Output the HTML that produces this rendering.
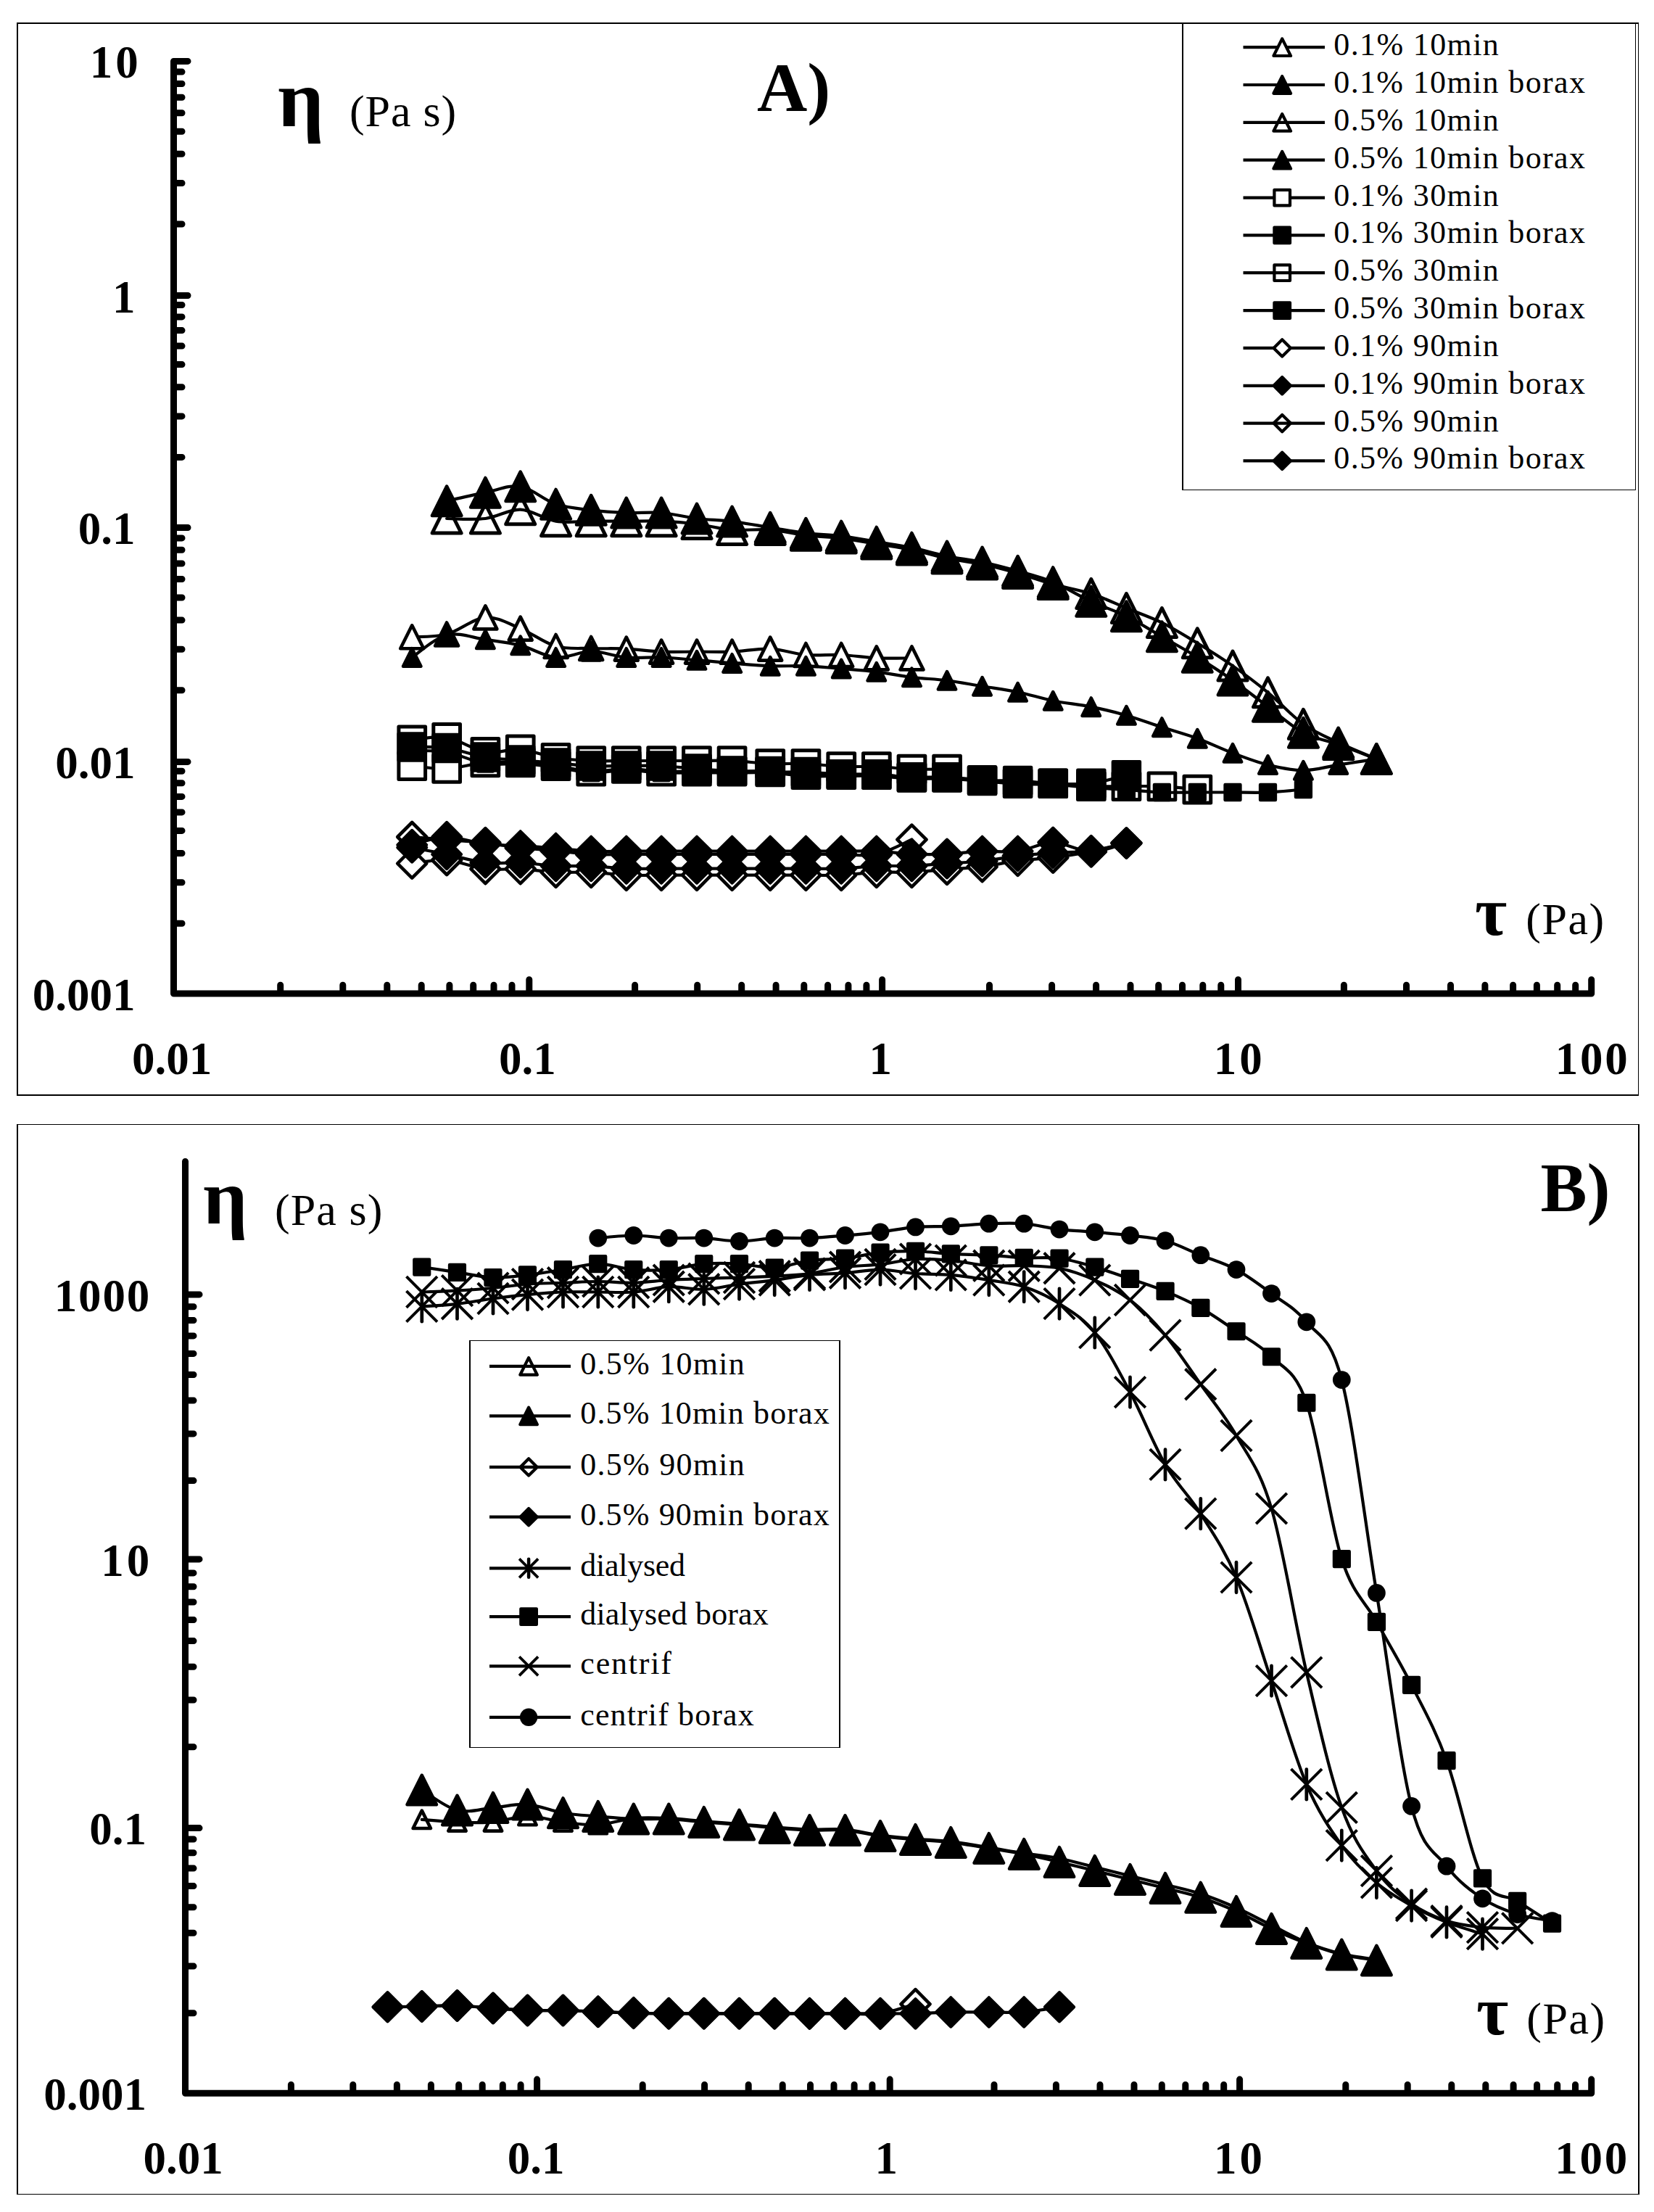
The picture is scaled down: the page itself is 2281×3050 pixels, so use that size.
<!DOCTYPE html>
<html lang="en"><head><meta charset="utf-8"><title>Viscosity vs shear stress</title>
<style>html,body{margin:0;padding:0;background:#fff}svg{display:block}text{font-family:'Liberation Serif', serif;fill:#000}</style>
</head><body>
<svg width="2281" height="3050" viewBox="0 0 2281 3050">
<rect width="2281" height="3050" fill="#fff"/>
<path d="M23 31h2v1480h-2zM23 31h2237v2h-2237zM2259 31h1v1480h-1zM23 1509h2237v2h-2237z" fill="#000" shape-rendering="crispEdges"/>
<g fill="none" stroke="#000" stroke-width="9" stroke-linecap="round" stroke-linejoin="round"><path d="M239.5 84.4L239.5 1370L2194.7 1370M386.7 1370L386.7 1358.2M472.8 1370L472.8 1358.2M533.8 1370L533.8 1358.2M581.2 1370L581.2 1358.2M619.9 1370L619.9 1358.2M652.7 1370L652.7 1358.2M681 1370L681 1358.2M706 1370L706 1358.2M875.6 1370L875.6 1358.2M961.7 1370L961.7 1358.2M1022.7 1370L1022.7 1358.2M1070.1 1370L1070.1 1358.2M1108.8 1370L1108.8 1358.2M1141.6 1370L1141.6 1358.2M1169.9 1370L1169.9 1358.2M1194.9 1370L1194.9 1358.2M1364.5 1370L1364.5 1358.2M1450.6 1370L1450.6 1358.2M1511.6 1370L1511.6 1358.2M1559 1370L1559 1358.2M1597.7 1370L1597.7 1358.2M1630.5 1370L1630.5 1358.2M1658.8 1370L1658.8 1358.2M1683.8 1370L1683.8 1358.2M1853.4 1370L1853.4 1358.2M1939.5 1370L1939.5 1358.2M2000.5 1370L2000.5 1358.2M2047.9 1370L2047.9 1358.2M2086.6 1370L2086.6 1358.2M2119.4 1370L2119.4 1358.2M2147.7 1370L2147.7 1358.2M2172.7 1370L2172.7 1358.2M729.8 1370L729.8 1350.8M1216.6 1370L1216.6 1350.8M1707.5 1370L1707.5 1350.8M2194.7 1370L2194.7 1350.8M239.5 1273.2L251 1273.2M239.5 1216.7L251 1216.7M239.5 1176.5L251 1176.5M239.5 1145.4L251 1145.4M239.5 1119.9L251 1119.9M239.5 1098.4L251 1098.4M239.5 1079.7L251 1079.7M239.5 1063.3L251 1063.3M239.5 951.8L251 951.8M239.5 895.3L251 895.3M239.5 855.1L251 855.1M239.5 824L251 824M239.5 798.5L251 798.5M239.5 777L251 777M239.5 758.3L251 758.3M239.5 741.9L251 741.9M239.5 630.4L251 630.4M239.5 573.9L251 573.9M239.5 533.7L251 533.7M239.5 502.6L251 502.6M239.5 477.1L251 477.1M239.5 455.6L251 455.6M239.5 436.9L251 436.9M239.5 420.5L251 420.5M239.5 309L251 309M239.5 252.5L251 252.5M239.5 212.3L251 212.3M239.5 181.2L251 181.2M239.5 155.7L251 155.7M239.5 134.2L251 134.2M239.5 115.5L251 115.5M239.5 99.1L251 99.1M239.5 1050.4L259 1050.4M239.5 727.5L259 727.5M239.5 407.5L259 407.5M239.5 84.4L259 84.4"/></g>
<path d="M568.2 878.3C576.2 877.7 599.2 879 616.1 874.5C633 870 652.5 852.7 669.4 851.4C686.3 850.1 701.5 860 717.7 866.6C733.9 873.2 750.4 886.4 766.6 891C782.9 895.6 799 893.4 815.2 894C831.4 894.6 847.6 893.8 863.8 894.6C879.9 895.4 895.9 897.9 912.1 898.6C928.3 899.3 944.8 898.6 961 898.6C977.2 898.6 992.7 899.3 1009.6 898.6C1026.5 897.9 1045.2 893.9 1062.2 894.6C1079.2 895.3 1095.1 901.6 1111.4 903C1127.7 904.4 1144 902.3 1160.2 903C1176.4 903.7 1192.6 906.7 1208.8 907.4C1225 908.1 1249.3 907.4 1257.4 907.4" fill="none" stroke="#000" stroke-width="4.2" stroke-linejoin="round" stroke-linecap="round"/>
<path d="M568.2 862.3L584.2 894.2L552.2 894.2Z" fill="#fff" stroke="#000" stroke-width="4.6" stroke-linejoin="round" stroke-linecap="round"/>
<path d="M616.1 858.5L632.1 890.5L600.1 890.5Z" fill="#fff" stroke="#000" stroke-width="4.6" stroke-linejoin="round" stroke-linecap="round"/>
<path d="M669.4 835.4L685.4 867.4L653.4 867.4Z" fill="#fff" stroke="#000" stroke-width="4.6" stroke-linejoin="round" stroke-linecap="round"/>
<path d="M717.7 850.6L733.7 882.6L701.8 882.6Z" fill="#fff" stroke="#000" stroke-width="4.6" stroke-linejoin="round" stroke-linecap="round"/>
<path d="M766.6 875L782.6 907L750.6 907Z" fill="#fff" stroke="#000" stroke-width="4.6" stroke-linejoin="round" stroke-linecap="round"/>
<path d="M815.2 878L831.2 910L799.2 910Z" fill="#fff" stroke="#000" stroke-width="4.6" stroke-linejoin="round" stroke-linecap="round"/>
<path d="M863.8 878.6L879.8 910.6L847.8 910.6Z" fill="#fff" stroke="#000" stroke-width="4.6" stroke-linejoin="round" stroke-linecap="round"/>
<path d="M912.1 882.6L928.1 914.6L896.1 914.6Z" fill="#fff" stroke="#000" stroke-width="4.6" stroke-linejoin="round" stroke-linecap="round"/>
<path d="M961 882.6L977 914.6L945 914.6Z" fill="#fff" stroke="#000" stroke-width="4.6" stroke-linejoin="round" stroke-linecap="round"/>
<path d="M1009.6 882.6L1025.5 914.6L993.6 914.6Z" fill="#fff" stroke="#000" stroke-width="4.6" stroke-linejoin="round" stroke-linecap="round"/>
<path d="M1062.2 878.6L1078.2 910.6L1046.2 910.6Z" fill="#fff" stroke="#000" stroke-width="4.6" stroke-linejoin="round" stroke-linecap="round"/>
<path d="M1111.4 887L1127.4 919L1095.5 919Z" fill="#fff" stroke="#000" stroke-width="4.6" stroke-linejoin="round" stroke-linecap="round"/>
<path d="M1160.2 887L1176.2 919L1144.2 919Z" fill="#fff" stroke="#000" stroke-width="4.6" stroke-linejoin="round" stroke-linecap="round"/>
<path d="M1208.8 891.4L1224.8 923.4L1192.8 923.4Z" fill="#fff" stroke="#000" stroke-width="4.6" stroke-linejoin="round" stroke-linecap="round"/>
<path d="M1257.4 891.4L1273.4 923.4L1241.5 923.4Z" fill="#fff" stroke="#000" stroke-width="4.6" stroke-linejoin="round" stroke-linecap="round"/>
<path d="M568.2 906.5C576.2 901.3 599.2 879.6 616.1 875.5C633 871.4 652.5 879.5 669.4 881.9C686.3 884.3 701.5 885.8 717.7 889.9C733.9 894 750.4 905.1 766.6 906.5C782.9 907.9 799 898.2 815.2 898.2C831.4 898.2 847.6 905.1 863.8 906.5C879.9 907.9 895.9 905.9 912.1 906.5C928.3 907.1 944.8 908.9 961 910.2C977.2 911.5 992.7 913.2 1009.6 914.5C1026.5 915.8 1045.2 917.6 1062.2 918.2C1079.2 918.8 1095.1 917.7 1111.4 918.3C1127.7 918.9 1144 920.7 1160.2 922C1176.4 923.3 1192.6 924.3 1208.8 926.3C1225 928.3 1241.2 931.9 1257.4 933.9C1273.6 935.9 1289.8 936.2 1306 938.3C1322.2 940.3 1338.3 943.6 1354.6 946.2C1370.9 948.9 1387.3 950.9 1403.6 954.2C1419.9 957.5 1435.3 962.8 1452.2 966.2C1469.1 969.6 1487.9 971.2 1504.8 974.6C1521.7 978 1537.1 981.7 1553.4 986.4C1569.7 991.1 1586.1 997.3 1602.4 1002.6C1618.7 1007.9 1635 1012.2 1651.3 1018.2C1667.6 1024.2 1683.8 1032.2 1700 1038.3C1716.2 1044.4 1732.3 1050.6 1748.5 1054.6C1764.7 1058.6 1781.2 1062.2 1797.4 1062.2C1813.6 1062.2 1828.9 1057.2 1845.7 1054.6C1862.5 1052 1889.5 1047.9 1898.3 1046.6" fill="none" stroke="#000" stroke-width="4.2" stroke-linejoin="round" stroke-linecap="round"/>
<path d="M568.2 894.2L580.5 918.8L556 918.8Z" fill="#000" stroke="#000" stroke-width="4.5" stroke-linejoin="round" stroke-linecap="round"/>
<path d="M616.1 863.2L628.4 887.8L603.9 887.8Z" fill="#000" stroke="#000" stroke-width="4.5" stroke-linejoin="round" stroke-linecap="round"/>
<path d="M669.4 869.6L681.6 894.1L657.1 894.1Z" fill="#000" stroke="#000" stroke-width="4.5" stroke-linejoin="round" stroke-linecap="round"/>
<path d="M717.7 877.6L730 902.1L705.5 902.1Z" fill="#000" stroke="#000" stroke-width="4.5" stroke-linejoin="round" stroke-linecap="round"/>
<path d="M766.6 894.2L778.9 918.8L754.4 918.8Z" fill="#000" stroke="#000" stroke-width="4.5" stroke-linejoin="round" stroke-linecap="round"/>
<path d="M815.2 886L827.5 910.5L803 910.5Z" fill="#000" stroke="#000" stroke-width="4.5" stroke-linejoin="round" stroke-linecap="round"/>
<path d="M863.8 894.2L876 918.8L851.5 918.8Z" fill="#000" stroke="#000" stroke-width="4.5" stroke-linejoin="round" stroke-linecap="round"/>
<path d="M912.1 894.2L924.4 918.8L899.9 918.8Z" fill="#000" stroke="#000" stroke-width="4.5" stroke-linejoin="round" stroke-linecap="round"/>
<path d="M961 898L973.2 922.5L948.8 922.5Z" fill="#000" stroke="#000" stroke-width="4.5" stroke-linejoin="round" stroke-linecap="round"/>
<path d="M1009.6 902.2L1021.9 926.8L997.4 926.8Z" fill="#000" stroke="#000" stroke-width="4.5" stroke-linejoin="round" stroke-linecap="round"/>
<path d="M1062.2 906L1074.5 930.5L1050 930.5Z" fill="#000" stroke="#000" stroke-width="4.5" stroke-linejoin="round" stroke-linecap="round"/>
<path d="M1111.4 906L1123.7 930.5L1099.2 930.5Z" fill="#000" stroke="#000" stroke-width="4.5" stroke-linejoin="round" stroke-linecap="round"/>
<path d="M1160.2 909.8L1172.5 934.2L1148 934.2Z" fill="#000" stroke="#000" stroke-width="4.5" stroke-linejoin="round" stroke-linecap="round"/>
<path d="M1208.8 914L1221 938.5L1196.5 938.5Z" fill="#000" stroke="#000" stroke-width="4.5" stroke-linejoin="round" stroke-linecap="round"/>
<path d="M1257.4 921.6L1269.7 946.1L1245.2 946.1Z" fill="#000" stroke="#000" stroke-width="4.5" stroke-linejoin="round" stroke-linecap="round"/>
<path d="M1306 926L1318.2 950.5L1293.8 950.5Z" fill="#000" stroke="#000" stroke-width="4.5" stroke-linejoin="round" stroke-linecap="round"/>
<path d="M1354.6 934L1366.8 958.5L1342.3 958.5Z" fill="#000" stroke="#000" stroke-width="4.5" stroke-linejoin="round" stroke-linecap="round"/>
<path d="M1403.6 942L1415.8 966.5L1391.3 966.5Z" fill="#000" stroke="#000" stroke-width="4.5" stroke-linejoin="round" stroke-linecap="round"/>
<path d="M1452.2 954L1464.5 978.5L1440 978.5Z" fill="#000" stroke="#000" stroke-width="4.5" stroke-linejoin="round" stroke-linecap="round"/>
<path d="M1504.8 962.4L1517 986.9L1492.5 986.9Z" fill="#000" stroke="#000" stroke-width="4.5" stroke-linejoin="round" stroke-linecap="round"/>
<path d="M1553.4 974.1L1565.7 998.6L1541.2 998.6Z" fill="#000" stroke="#000" stroke-width="4.5" stroke-linejoin="round" stroke-linecap="round"/>
<path d="M1602.4 990.4L1614.7 1014.9L1590.2 1014.9Z" fill="#000" stroke="#000" stroke-width="4.5" stroke-linejoin="round" stroke-linecap="round"/>
<path d="M1651.3 1006L1663.5 1030.5L1639 1030.5Z" fill="#000" stroke="#000" stroke-width="4.5" stroke-linejoin="round" stroke-linecap="round"/>
<path d="M1700 1026L1712.2 1050.5L1687.8 1050.5Z" fill="#000" stroke="#000" stroke-width="4.5" stroke-linejoin="round" stroke-linecap="round"/>
<path d="M1748.5 1042.3L1760.8 1066.8L1736.2 1066.8Z" fill="#000" stroke="#000" stroke-width="4.5" stroke-linejoin="round" stroke-linecap="round"/>
<path d="M1797.4 1050L1809.7 1074.5L1785.2 1074.5Z" fill="#000" stroke="#000" stroke-width="4.5" stroke-linejoin="round" stroke-linecap="round"/>
<path d="M1845.7 1042.3L1858 1066.8L1833.5 1066.8Z" fill="#000" stroke="#000" stroke-width="4.5" stroke-linejoin="round" stroke-linecap="round"/>
<path d="M1898.3 1034.3L1910.5 1058.8L1886 1058.8Z" fill="#000" stroke="#000" stroke-width="4.5" stroke-linejoin="round" stroke-linecap="round"/>
<path d="M616.1 715C625 715 652.5 717 669.4 715C686.3 713 701.5 702.1 717.7 702.7C733.9 703.3 750.4 716 766.6 718.7C782.9 721.4 799 718.7 815.2 718.7C831.4 718.7 847.6 718.7 863.8 718.7C879.9 718.7 895.9 718.1 912.1 718.7C928.3 719.4 944.8 720.6 961 722.6C977.2 724.6 992.7 729.3 1009.6 730.6C1026.5 731.9 1045.2 729.1 1062.2 730.4C1079.2 731.7 1095.1 736.2 1111.4 738.2C1127.7 740.2 1144 740.1 1160.2 742.1C1176.4 744.1 1192.6 747.4 1208.8 750.1C1225 752.8 1241.2 754.8 1257.4 758.1C1273.6 761.4 1289.8 766.7 1306 770C1322.2 773.3 1338.3 774.6 1354.6 778C1370.9 781.4 1387.3 785.8 1403.6 790.4C1419.9 795 1435.3 800.9 1452.2 805.6C1469.1 810.3 1487.9 813.1 1504.8 818.6C1521.7 824.1 1537.1 831.8 1553.4 838.5C1569.7 845.2 1586.1 850.6 1602.4 858.6C1618.7 866.6 1635 876.9 1651.3 886.8C1667.6 896.7 1683.8 906.8 1700 918.1C1716.2 929.4 1732.3 941.4 1748.5 954.8C1764.7 968.2 1781.2 986.9 1797.4 998.4C1813.6 1009.9 1828.9 1016 1845.7 1024C1862.5 1032 1889.5 1042.8 1898.3 1046.6" fill="none" stroke="#000" stroke-width="4.2" stroke-linejoin="round" stroke-linecap="round"/>
<path d="M616.1 695L636.1 735L596.1 735Z" fill="none" stroke="#000" stroke-width="5" stroke-linejoin="round" stroke-linecap="round"/>
<path d="M669.4 695L689.4 735L649.4 735Z" fill="none" stroke="#000" stroke-width="5" stroke-linejoin="round" stroke-linecap="round"/>
<path d="M717.7 682.7L737.7 722.7L697.7 722.7Z" fill="none" stroke="#000" stroke-width="5" stroke-linejoin="round" stroke-linecap="round"/>
<path d="M766.6 698.7L786.6 738.7L746.6 738.7Z" fill="none" stroke="#000" stroke-width="5" stroke-linejoin="round" stroke-linecap="round"/>
<path d="M815.2 698.7L835.2 738.7L795.2 738.7Z" fill="none" stroke="#000" stroke-width="5" stroke-linejoin="round" stroke-linecap="round"/>
<path d="M863.8 698.7L883.8 738.7L843.8 738.7Z" fill="none" stroke="#000" stroke-width="5" stroke-linejoin="round" stroke-linecap="round"/>
<path d="M912.1 698.7L932.1 738.7L892.1 738.7Z" fill="none" stroke="#000" stroke-width="5" stroke-linejoin="round" stroke-linecap="round"/>
<path d="M961 702.6L981 742.6L941 742.6Z" fill="none" stroke="#000" stroke-width="5" stroke-linejoin="round" stroke-linecap="round"/>
<path d="M1009.6 710.6L1029.6 750.6L989.6 750.6Z" fill="none" stroke="#000" stroke-width="5" stroke-linejoin="round" stroke-linecap="round"/>
<path d="M1062.2 710.4L1082.2 750.4L1042.2 750.4Z" fill="none" stroke="#000" stroke-width="5" stroke-linejoin="round" stroke-linecap="round"/>
<path d="M1111.4 718.2L1131.4 758.2L1091.4 758.2Z" fill="none" stroke="#000" stroke-width="5" stroke-linejoin="round" stroke-linecap="round"/>
<path d="M1160.2 722.1L1180.2 762.1L1140.2 762.1Z" fill="none" stroke="#000" stroke-width="5" stroke-linejoin="round" stroke-linecap="round"/>
<path d="M1208.8 730.1L1228.8 770.1L1188.8 770.1Z" fill="none" stroke="#000" stroke-width="5" stroke-linejoin="round" stroke-linecap="round"/>
<path d="M1257.4 738.1L1277.4 778.1L1237.4 778.1Z" fill="none" stroke="#000" stroke-width="5" stroke-linejoin="round" stroke-linecap="round"/>
<path d="M1306 750L1326 790L1286 790Z" fill="none" stroke="#000" stroke-width="5" stroke-linejoin="round" stroke-linecap="round"/>
<path d="M1354.6 758L1374.6 798L1334.6 798Z" fill="none" stroke="#000" stroke-width="5" stroke-linejoin="round" stroke-linecap="round"/>
<path d="M1403.6 770.4L1423.6 810.4L1383.6 810.4Z" fill="none" stroke="#000" stroke-width="5" stroke-linejoin="round" stroke-linecap="round"/>
<path d="M1452.2 785.6L1472.2 825.6L1432.2 825.6Z" fill="none" stroke="#000" stroke-width="5" stroke-linejoin="round" stroke-linecap="round"/>
<path d="M1504.8 798.6L1524.8 838.6L1484.8 838.6Z" fill="none" stroke="#000" stroke-width="5" stroke-linejoin="round" stroke-linecap="round"/>
<path d="M1553.4 818.5L1573.4 858.5L1533.4 858.5Z" fill="none" stroke="#000" stroke-width="5" stroke-linejoin="round" stroke-linecap="round"/>
<path d="M1602.4 838.6L1622.4 878.6L1582.4 878.6Z" fill="none" stroke="#000" stroke-width="5" stroke-linejoin="round" stroke-linecap="round"/>
<path d="M1651.3 866.8L1671.3 906.8L1631.3 906.8Z" fill="none" stroke="#000" stroke-width="5" stroke-linejoin="round" stroke-linecap="round"/>
<path d="M1700 898.1L1720 938.1L1680 938.1Z" fill="none" stroke="#000" stroke-width="5" stroke-linejoin="round" stroke-linecap="round"/>
<path d="M1748.5 934.8L1768.5 974.8L1728.5 974.8Z" fill="none" stroke="#000" stroke-width="5" stroke-linejoin="round" stroke-linecap="round"/>
<path d="M1797.4 978.4L1817.4 1018.4L1777.4 1018.4Z" fill="none" stroke="#000" stroke-width="5" stroke-linejoin="round" stroke-linecap="round"/>
<path d="M1845.7 1004L1865.7 1044L1825.7 1044Z" fill="none" stroke="#000" stroke-width="5" stroke-linejoin="round" stroke-linecap="round"/>
<path d="M1898.3 1026.6L1918.3 1066.6L1878.3 1066.6Z" fill="none" stroke="#000" stroke-width="5" stroke-linejoin="round" stroke-linecap="round"/>
<path d="M616.1 690.7C625 688.8 652.5 682.4 669.4 679.1C686.3 675.8 701.5 668.1 717.7 670.8C733.9 673.5 750.4 689.7 766.6 695.1C782.9 700.5 799 701.4 815.2 703.4C831.4 705.4 847.6 706.4 863.8 707C879.9 707.6 895.9 705.7 912.1 707C928.3 708.3 944.8 713 961 715C977.2 717 992.7 716.9 1009.6 719C1026.5 721.1 1045.2 724.7 1062.2 727.4C1079.2 730.1 1095.1 733.2 1111.4 735.2C1127.7 737.2 1144 737.1 1160.2 739.1C1176.4 741.1 1192.6 744.4 1208.8 747.1C1225 749.8 1241.2 751.8 1257.4 755.1C1273.6 758.4 1289.8 763.7 1306 767C1322.2 770.3 1338.3 771.6 1354.6 775C1370.9 778.4 1387.3 782.8 1403.6 787.4C1419.9 792 1435.3 795.6 1452.2 802.6C1469.1 809.6 1487.9 821.5 1504.8 829.4C1521.7 837.2 1537.1 841.6 1553.4 849.7C1569.7 857.8 1586.1 868.4 1602.4 877.8C1618.7 887.2 1635 896.1 1651.3 906.1C1667.6 916.1 1683.8 926.6 1700 938C1716.2 949.4 1732.3 962.4 1748.5 974.4C1764.7 986.4 1781.2 1001.6 1797.4 1010.3C1813.6 1019 1828.9 1020.5 1845.7 1026.6C1862.5 1032.6 1889.5 1043.3 1898.3 1046.6" fill="none" stroke="#000" stroke-width="4.2" stroke-linejoin="round" stroke-linecap="round"/>
<path d="M616.1 670.5L636.4 711L595.9 711Z" fill="#000" stroke="#000" stroke-width="4.5" stroke-linejoin="round" stroke-linecap="round"/>
<path d="M669.4 658.9L689.6 699.4L649.1 699.4Z" fill="#000" stroke="#000" stroke-width="4.5" stroke-linejoin="round" stroke-linecap="round"/>
<path d="M717.7 650.5L738 691L697.5 691Z" fill="#000" stroke="#000" stroke-width="4.5" stroke-linejoin="round" stroke-linecap="round"/>
<path d="M766.6 674.9L786.9 715.4L746.4 715.4Z" fill="#000" stroke="#000" stroke-width="4.5" stroke-linejoin="round" stroke-linecap="round"/>
<path d="M815.2 683.1L835.5 723.6L795 723.6Z" fill="#000" stroke="#000" stroke-width="4.5" stroke-linejoin="round" stroke-linecap="round"/>
<path d="M863.8 686.8L884 727.2L843.5 727.2Z" fill="#000" stroke="#000" stroke-width="4.5" stroke-linejoin="round" stroke-linecap="round"/>
<path d="M912.1 686.8L932.4 727.2L891.9 727.2Z" fill="#000" stroke="#000" stroke-width="4.5" stroke-linejoin="round" stroke-linecap="round"/>
<path d="M961 694.8L981.2 735.2L940.8 735.2Z" fill="#000" stroke="#000" stroke-width="4.5" stroke-linejoin="round" stroke-linecap="round"/>
<path d="M1009.6 698.8L1029.8 739.2L989.4 739.2Z" fill="#000" stroke="#000" stroke-width="4.5" stroke-linejoin="round" stroke-linecap="round"/>
<path d="M1062.2 707.1L1082.5 747.6L1042 747.6Z" fill="#000" stroke="#000" stroke-width="4.5" stroke-linejoin="round" stroke-linecap="round"/>
<path d="M1111.4 715L1131.7 755.5L1091.2 755.5Z" fill="#000" stroke="#000" stroke-width="4.5" stroke-linejoin="round" stroke-linecap="round"/>
<path d="M1160.2 718.9L1180.5 759.4L1140 759.4Z" fill="#000" stroke="#000" stroke-width="4.5" stroke-linejoin="round" stroke-linecap="round"/>
<path d="M1208.8 726.9L1229 767.4L1188.5 767.4Z" fill="#000" stroke="#000" stroke-width="4.5" stroke-linejoin="round" stroke-linecap="round"/>
<path d="M1257.4 734.9L1277.7 775.4L1237.2 775.4Z" fill="#000" stroke="#000" stroke-width="4.5" stroke-linejoin="round" stroke-linecap="round"/>
<path d="M1306 746.8L1326.2 787.2L1285.8 787.2Z" fill="#000" stroke="#000" stroke-width="4.5" stroke-linejoin="round" stroke-linecap="round"/>
<path d="M1354.6 754.8L1374.8 795.2L1334.3 795.2Z" fill="#000" stroke="#000" stroke-width="4.5" stroke-linejoin="round" stroke-linecap="round"/>
<path d="M1403.6 767.1L1423.8 807.6L1383.3 807.6Z" fill="#000" stroke="#000" stroke-width="4.5" stroke-linejoin="round" stroke-linecap="round"/>
<path d="M1452.2 782.4L1472.5 822.9L1432 822.9Z" fill="#000" stroke="#000" stroke-width="4.5" stroke-linejoin="round" stroke-linecap="round"/>
<path d="M1504.8 809.1L1525 849.6L1484.5 849.6Z" fill="#000" stroke="#000" stroke-width="4.5" stroke-linejoin="round" stroke-linecap="round"/>
<path d="M1553.4 829.5L1573.7 870L1533.2 870Z" fill="#000" stroke="#000" stroke-width="4.5" stroke-linejoin="round" stroke-linecap="round"/>
<path d="M1602.4 857.5L1622.7 898L1582.2 898Z" fill="#000" stroke="#000" stroke-width="4.5" stroke-linejoin="round" stroke-linecap="round"/>
<path d="M1651.3 885.9L1671.5 926.4L1631 926.4Z" fill="#000" stroke="#000" stroke-width="4.5" stroke-linejoin="round" stroke-linecap="round"/>
<path d="M1700 917.8L1720.2 958.2L1679.8 958.2Z" fill="#000" stroke="#000" stroke-width="4.5" stroke-linejoin="round" stroke-linecap="round"/>
<path d="M1748.5 954.1L1768.8 994.6L1728.2 994.6Z" fill="#000" stroke="#000" stroke-width="4.5" stroke-linejoin="round" stroke-linecap="round"/>
<path d="M1797.4 990L1817.7 1030.5L1777.2 1030.5Z" fill="#000" stroke="#000" stroke-width="4.5" stroke-linejoin="round" stroke-linecap="round"/>
<path d="M1845.7 1006.3L1866 1046.8L1825.5 1046.8Z" fill="#000" stroke="#000" stroke-width="4.5" stroke-linejoin="round" stroke-linecap="round"/>
<path d="M1898.3 1026.3L1918.5 1066.8L1878 1066.8Z" fill="#000" stroke="#000" stroke-width="4.5" stroke-linejoin="round" stroke-linecap="round"/>
<path d="M568.2 1056C576.2 1056.7 599.2 1060.7 616.1 1059.9C633 1059.1 652.5 1052.8 669.4 1051.4C686.3 1050 701.5 1050.6 717.7 1051.4C733.9 1052.2 750.4 1054 766.6 1056C782.9 1058 799 1062.8 815.2 1063.5C831.4 1064.2 847.6 1059.9 863.8 1059.9C879.9 1059.9 895.9 1062.9 912.1 1063.5C928.3 1064.1 944.8 1063.5 961 1063.5C977.2 1063.5 992.7 1063.5 1009.6 1063.5C1026.5 1063.5 1045.2 1062.8 1062.2 1063.5C1079.2 1064.2 1095.1 1067.2 1111.4 1068C1127.7 1068.8 1144 1068 1160.2 1068C1176.4 1068 1192.6 1067.4 1208.8 1068C1225 1068.6 1241.2 1071.1 1257.4 1071.7C1273.6 1072.3 1289.8 1071 1306 1071.7C1322.2 1072.4 1338.3 1074.3 1354.6 1075.7C1370.9 1077.1 1387.3 1079.5 1403.6 1080.2C1419.9 1081 1435.3 1079.6 1452.2 1080.2C1469.1 1080.8 1487.9 1083.4 1504.8 1084.1C1521.7 1084.8 1537.1 1084 1553.4 1084.1C1569.7 1084.1 1586.1 1083.7 1602.4 1084.4C1618.7 1085.1 1643.2 1087.8 1651.3 1088.5" fill="none" stroke="#000" stroke-width="4.2" stroke-linejoin="round" stroke-linecap="round"/>
<rect x="549.9" y="1037.7" width="36.7" height="36.7" fill="#fff" stroke="#000" stroke-width="5" stroke-linejoin="round" stroke-linecap="round"/>
<rect x="597.8" y="1041.6" width="36.7" height="36.7" fill="#fff" stroke="#000" stroke-width="5" stroke-linejoin="round" stroke-linecap="round"/>
<rect x="651" y="1033.1" width="36.7" height="36.7" fill="#fff" stroke="#000" stroke-width="5" stroke-linejoin="round" stroke-linecap="round"/>
<rect x="699.4" y="1033.1" width="36.7" height="36.7" fill="#fff" stroke="#000" stroke-width="5" stroke-linejoin="round" stroke-linecap="round"/>
<rect x="748.2" y="1037.7" width="36.7" height="36.7" fill="#fff" stroke="#000" stroke-width="5" stroke-linejoin="round" stroke-linecap="round"/>
<rect x="796.9" y="1045.2" width="36.7" height="36.7" fill="#fff" stroke="#000" stroke-width="5" stroke-linejoin="round" stroke-linecap="round"/>
<rect x="845.4" y="1041.6" width="36.7" height="36.7" fill="#fff" stroke="#000" stroke-width="5" stroke-linejoin="round" stroke-linecap="round"/>
<rect x="893.8" y="1045.2" width="36.7" height="36.7" fill="#fff" stroke="#000" stroke-width="5" stroke-linejoin="round" stroke-linecap="round"/>
<rect x="942.6" y="1045.2" width="36.7" height="36.7" fill="#fff" stroke="#000" stroke-width="5" stroke-linejoin="round" stroke-linecap="round"/>
<rect x="991.2" y="1045.2" width="36.7" height="36.7" fill="#fff" stroke="#000" stroke-width="5" stroke-linejoin="round" stroke-linecap="round"/>
<rect x="1043.9" y="1045.2" width="36.7" height="36.7" fill="#fff" stroke="#000" stroke-width="5" stroke-linejoin="round" stroke-linecap="round"/>
<rect x="1093.1" y="1049.7" width="36.7" height="36.7" fill="#fff" stroke="#000" stroke-width="5" stroke-linejoin="round" stroke-linecap="round"/>
<rect x="1141.9" y="1049.7" width="36.7" height="36.7" fill="#fff" stroke="#000" stroke-width="5" stroke-linejoin="round" stroke-linecap="round"/>
<rect x="1190.5" y="1049.7" width="36.7" height="36.7" fill="#fff" stroke="#000" stroke-width="5" stroke-linejoin="round" stroke-linecap="round"/>
<rect x="1239.1" y="1053.4" width="36.7" height="36.7" fill="#fff" stroke="#000" stroke-width="5" stroke-linejoin="round" stroke-linecap="round"/>
<rect x="1287.7" y="1053.4" width="36.7" height="36.7" fill="#fff" stroke="#000" stroke-width="5" stroke-linejoin="round" stroke-linecap="round"/>
<rect x="1336.2" y="1057.4" width="36.7" height="36.7" fill="#fff" stroke="#000" stroke-width="5" stroke-linejoin="round" stroke-linecap="round"/>
<rect x="1385.2" y="1061.9" width="36.7" height="36.7" fill="#fff" stroke="#000" stroke-width="5" stroke-linejoin="round" stroke-linecap="round"/>
<rect x="1433.9" y="1061.9" width="36.7" height="36.7" fill="#fff" stroke="#000" stroke-width="5" stroke-linejoin="round" stroke-linecap="round"/>
<rect x="1486.5" y="1065.8" width="36.7" height="36.7" fill="#fff" stroke="#000" stroke-width="5" stroke-linejoin="round" stroke-linecap="round"/>
<rect x="1535.1" y="1065.8" width="36.7" height="36.7" fill="#fff" stroke="#000" stroke-width="5" stroke-linejoin="round" stroke-linecap="round"/>
<rect x="1584.1" y="1066.1" width="36.7" height="36.7" fill="#fff" stroke="#000" stroke-width="5" stroke-linejoin="round" stroke-linecap="round"/>
<rect x="1633" y="1070.2" width="36.7" height="36.7" fill="#fff" stroke="#000" stroke-width="5" stroke-linejoin="round" stroke-linecap="round"/>
<path d="M568.2 1035C576.2 1035.3 599.2 1034 616.1 1037C633 1040 652.5 1050.3 669.4 1053C686.3 1055.7 701.5 1052.2 717.7 1053C733.9 1053.8 750.4 1055.9 766.6 1058C782.9 1060.1 799 1064.8 815.2 1065.5C831.4 1066.2 847.6 1062 863.8 1062C879.9 1062 895.9 1064.9 912.1 1065.5C928.3 1066.1 944.8 1065.5 961 1065.5C977.2 1065.5 992.7 1065.5 1009.6 1065.5C1026.5 1065.5 1045.2 1064.8 1062.2 1065.5C1079.2 1066.2 1095.1 1069.2 1111.4 1070C1127.7 1070.8 1144 1070 1160.2 1070C1176.4 1070 1192.6 1069.4 1208.8 1070C1225 1070.6 1241.2 1073.1 1257.4 1073.7C1273.6 1074.3 1289.8 1073.2 1306 1073.7C1322.2 1074.2 1338.3 1075.8 1354.6 1077C1370.9 1078.2 1387.3 1080.2 1403.6 1081C1419.9 1081.8 1435.3 1081.2 1452.2 1082C1469.1 1082.8 1487.9 1084.8 1504.8 1086C1521.7 1087.2 1537.1 1087.9 1553.4 1089C1569.7 1090.1 1586.1 1091.9 1602.4 1092.5C1618.7 1093.1 1635 1092.5 1651.3 1092.5C1667.6 1092.5 1683.8 1092.5 1700 1092.5C1716.2 1092.5 1732.3 1093.2 1748.5 1092.5C1764.7 1091.8 1789.2 1089.2 1797.4 1088.5" fill="none" stroke="#000" stroke-width="4.2" stroke-linejoin="round" stroke-linecap="round"/>
<rect x="557.8" y="1024.6" width="20.8" height="20.8" fill="#000" stroke="#000" stroke-width="4.5" stroke-linejoin="round" stroke-linecap="round"/>
<rect x="605.7" y="1026.6" width="20.8" height="20.8" fill="#000" stroke="#000" stroke-width="4.5" stroke-linejoin="round" stroke-linecap="round"/>
<rect x="659" y="1042.6" width="20.8" height="20.8" fill="#000" stroke="#000" stroke-width="4.5" stroke-linejoin="round" stroke-linecap="round"/>
<rect x="707.3" y="1042.6" width="20.8" height="20.8" fill="#000" stroke="#000" stroke-width="4.5" stroke-linejoin="round" stroke-linecap="round"/>
<rect x="756.2" y="1047.6" width="20.8" height="20.8" fill="#000" stroke="#000" stroke-width="4.5" stroke-linejoin="round" stroke-linecap="round"/>
<rect x="804.8" y="1055.1" width="20.8" height="20.8" fill="#000" stroke="#000" stroke-width="4.5" stroke-linejoin="round" stroke-linecap="round"/>
<rect x="853.4" y="1051.6" width="20.8" height="20.8" fill="#000" stroke="#000" stroke-width="4.5" stroke-linejoin="round" stroke-linecap="round"/>
<rect x="901.7" y="1055.1" width="20.8" height="20.8" fill="#000" stroke="#000" stroke-width="4.5" stroke-linejoin="round" stroke-linecap="round"/>
<rect x="950.6" y="1055.1" width="20.8" height="20.8" fill="#000" stroke="#000" stroke-width="4.5" stroke-linejoin="round" stroke-linecap="round"/>
<rect x="999.2" y="1055.1" width="20.8" height="20.8" fill="#000" stroke="#000" stroke-width="4.5" stroke-linejoin="round" stroke-linecap="round"/>
<rect x="1051.8" y="1055.1" width="20.8" height="20.8" fill="#000" stroke="#000" stroke-width="4.5" stroke-linejoin="round" stroke-linecap="round"/>
<rect x="1101" y="1059.6" width="20.8" height="20.8" fill="#000" stroke="#000" stroke-width="4.5" stroke-linejoin="round" stroke-linecap="round"/>
<rect x="1149.8" y="1059.6" width="20.8" height="20.8" fill="#000" stroke="#000" stroke-width="4.5" stroke-linejoin="round" stroke-linecap="round"/>
<rect x="1198.4" y="1059.6" width="20.8" height="20.8" fill="#000" stroke="#000" stroke-width="4.5" stroke-linejoin="round" stroke-linecap="round"/>
<rect x="1247" y="1063.3" width="20.8" height="20.8" fill="#000" stroke="#000" stroke-width="4.5" stroke-linejoin="round" stroke-linecap="round"/>
<rect x="1295.6" y="1063.3" width="20.8" height="20.8" fill="#000" stroke="#000" stroke-width="4.5" stroke-linejoin="round" stroke-linecap="round"/>
<rect x="1344.2" y="1066.6" width="20.8" height="20.8" fill="#000" stroke="#000" stroke-width="4.5" stroke-linejoin="round" stroke-linecap="round"/>
<rect x="1393.2" y="1070.6" width="20.8" height="20.8" fill="#000" stroke="#000" stroke-width="4.5" stroke-linejoin="round" stroke-linecap="round"/>
<rect x="1441.8" y="1071.6" width="20.8" height="20.8" fill="#000" stroke="#000" stroke-width="4.5" stroke-linejoin="round" stroke-linecap="round"/>
<rect x="1494.4" y="1075.6" width="20.8" height="20.8" fill="#000" stroke="#000" stroke-width="4.5" stroke-linejoin="round" stroke-linecap="round"/>
<rect x="1543" y="1078.6" width="20.8" height="20.8" fill="#000" stroke="#000" stroke-width="4.5" stroke-linejoin="round" stroke-linecap="round"/>
<rect x="1592" y="1082.1" width="20.8" height="20.8" fill="#000" stroke="#000" stroke-width="4.5" stroke-linejoin="round" stroke-linecap="round"/>
<rect x="1640.9" y="1082.1" width="20.8" height="20.8" fill="#000" stroke="#000" stroke-width="4.5" stroke-linejoin="round" stroke-linecap="round"/>
<rect x="1689.6" y="1082.1" width="20.8" height="20.8" fill="#000" stroke="#000" stroke-width="4.5" stroke-linejoin="round" stroke-linecap="round"/>
<rect x="1738.1" y="1082.1" width="20.8" height="20.8" fill="#000" stroke="#000" stroke-width="4.5" stroke-linejoin="round" stroke-linecap="round"/>
<rect x="1787" y="1078.1" width="20.8" height="20.8" fill="#000" stroke="#000" stroke-width="4.5" stroke-linejoin="round" stroke-linecap="round"/>
<path d="M568.2 1020.5C576.2 1019.9 599.2 1014 616.1 1016.8C633 1019.5 652.5 1034.2 669.4 1037C686.3 1039.8 701.5 1032 717.7 1033.3C733.9 1034.6 750.4 1042.2 766.6 1044.8C782.9 1047.4 799 1048.3 815.2 1049C831.4 1049.7 847.6 1049 863.8 1049C879.9 1049 895.9 1049 912.1 1049C928.3 1049 944.8 1049 961 1049C977.2 1049 992.7 1048.3 1009.6 1049C1026.5 1049.7 1045.2 1052.3 1062.2 1053C1079.2 1053.7 1095.1 1052.3 1111.4 1053C1127.7 1053.7 1144 1056.3 1160.2 1057C1176.4 1057.7 1192.6 1056.4 1208.8 1057C1225 1057.6 1241.2 1059.9 1257.4 1060.5C1273.6 1061.1 1297.9 1060.5 1306 1060.5" fill="none" stroke="#000" stroke-width="4.2" stroke-linejoin="round" stroke-linecap="round"/>
<rect x="549.9" y="1002.1" width="36.7" height="36.7" fill="none" stroke="#000" stroke-width="5" stroke-linejoin="round" stroke-linecap="round"/>
<rect x="597.8" y="998.4" width="36.7" height="36.7" fill="none" stroke="#000" stroke-width="5" stroke-linejoin="round" stroke-linecap="round"/>
<rect x="651" y="1018.6" width="36.7" height="36.7" fill="none" stroke="#000" stroke-width="5" stroke-linejoin="round" stroke-linecap="round"/>
<rect x="699.4" y="1014.9" width="36.7" height="36.7" fill="none" stroke="#000" stroke-width="5" stroke-linejoin="round" stroke-linecap="round"/>
<rect x="748.2" y="1026.5" width="36.7" height="36.7" fill="none" stroke="#000" stroke-width="5" stroke-linejoin="round" stroke-linecap="round"/>
<rect x="796.9" y="1030.7" width="36.7" height="36.7" fill="none" stroke="#000" stroke-width="5" stroke-linejoin="round" stroke-linecap="round"/>
<rect x="845.4" y="1030.7" width="36.7" height="36.7" fill="none" stroke="#000" stroke-width="5" stroke-linejoin="round" stroke-linecap="round"/>
<rect x="893.8" y="1030.7" width="36.7" height="36.7" fill="none" stroke="#000" stroke-width="5" stroke-linejoin="round" stroke-linecap="round"/>
<rect x="942.6" y="1030.7" width="36.7" height="36.7" fill="none" stroke="#000" stroke-width="5" stroke-linejoin="round" stroke-linecap="round"/>
<rect x="991.2" y="1030.7" width="36.7" height="36.7" fill="none" stroke="#000" stroke-width="5" stroke-linejoin="round" stroke-linecap="round"/>
<rect x="1043.9" y="1034.7" width="36.7" height="36.7" fill="none" stroke="#000" stroke-width="5" stroke-linejoin="round" stroke-linecap="round"/>
<rect x="1093.1" y="1034.7" width="36.7" height="36.7" fill="none" stroke="#000" stroke-width="5" stroke-linejoin="round" stroke-linecap="round"/>
<rect x="1141.9" y="1038.7" width="36.7" height="36.7" fill="none" stroke="#000" stroke-width="5" stroke-linejoin="round" stroke-linecap="round"/>
<rect x="1190.5" y="1038.7" width="36.7" height="36.7" fill="none" stroke="#000" stroke-width="5" stroke-linejoin="round" stroke-linecap="round"/>
<rect x="1239.1" y="1042.2" width="36.7" height="36.7" fill="none" stroke="#000" stroke-width="5" stroke-linejoin="round" stroke-linecap="round"/>
<rect x="1287.7" y="1042.2" width="36.7" height="36.7" fill="none" stroke="#000" stroke-width="5" stroke-linejoin="round" stroke-linecap="round"/>
<path d="M568.2 1030C576.2 1030.2 599.2 1029.1 616.1 1031.4C633 1033.7 652.5 1041.2 669.4 1044C686.3 1046.8 701.5 1046.7 717.7 1048C733.9 1049.3 750.4 1050.7 766.6 1052C782.9 1053.3 799 1055.3 815.2 1056C831.4 1056.7 847.6 1056 863.8 1056C879.9 1056 895.9 1055.3 912.1 1056C928.3 1056.7 944.8 1058.8 961 1060C977.2 1061.2 992.7 1062.2 1009.6 1063C1026.5 1063.8 1045.2 1064.3 1062.2 1064.6C1079.2 1064.9 1095.1 1064.1 1111.4 1064.6C1127.7 1065.1 1144 1067.2 1160.2 1067.7C1176.4 1068.2 1192.6 1067 1208.8 1067.7C1225 1068.4 1241.2 1071.3 1257.4 1072C1273.6 1072.7 1289.8 1071.3 1306 1072C1322.2 1072.7 1338.3 1075.7 1354.6 1076.4C1370.9 1077.1 1387.3 1075.8 1403.6 1076.4C1419.9 1077 1435.3 1079.6 1452.2 1080.2C1469.1 1080.8 1487.9 1082.1 1504.8 1080.2C1521.7 1078.3 1545.3 1070.6 1553.4 1068.7" fill="none" stroke="#000" stroke-width="4.2" stroke-linejoin="round" stroke-linecap="round"/>
<rect x="549.7" y="1011.5" width="37" height="37" fill="#000" stroke="#000" stroke-width="4.5" stroke-linejoin="round" stroke-linecap="round"/>
<rect x="597.6" y="1012.9" width="37" height="37" fill="#000" stroke="#000" stroke-width="4.5" stroke-linejoin="round" stroke-linecap="round"/>
<rect x="650.9" y="1025.5" width="37" height="37" fill="#000" stroke="#000" stroke-width="4.5" stroke-linejoin="round" stroke-linecap="round"/>
<rect x="699.2" y="1029.5" width="37" height="37" fill="#000" stroke="#000" stroke-width="4.5" stroke-linejoin="round" stroke-linecap="round"/>
<rect x="748.1" y="1033.5" width="37" height="37" fill="#000" stroke="#000" stroke-width="4.5" stroke-linejoin="round" stroke-linecap="round"/>
<rect x="796.7" y="1037.5" width="37" height="37" fill="#000" stroke="#000" stroke-width="4.5" stroke-linejoin="round" stroke-linecap="round"/>
<rect x="845.3" y="1037.5" width="37" height="37" fill="#000" stroke="#000" stroke-width="4.5" stroke-linejoin="round" stroke-linecap="round"/>
<rect x="893.6" y="1037.5" width="37" height="37" fill="#000" stroke="#000" stroke-width="4.5" stroke-linejoin="round" stroke-linecap="round"/>
<rect x="942.5" y="1041.5" width="37" height="37" fill="#000" stroke="#000" stroke-width="4.5" stroke-linejoin="round" stroke-linecap="round"/>
<rect x="991.1" y="1044.5" width="37" height="37" fill="#000" stroke="#000" stroke-width="4.5" stroke-linejoin="round" stroke-linecap="round"/>
<rect x="1043.7" y="1046.1" width="37" height="37" fill="#000" stroke="#000" stroke-width="4.5" stroke-linejoin="round" stroke-linecap="round"/>
<rect x="1092.9" y="1046.1" width="37" height="37" fill="#000" stroke="#000" stroke-width="4.5" stroke-linejoin="round" stroke-linecap="round"/>
<rect x="1141.7" y="1049.2" width="37" height="37" fill="#000" stroke="#000" stroke-width="4.5" stroke-linejoin="round" stroke-linecap="round"/>
<rect x="1190.3" y="1049.2" width="37" height="37" fill="#000" stroke="#000" stroke-width="4.5" stroke-linejoin="round" stroke-linecap="round"/>
<rect x="1238.9" y="1053.5" width="37" height="37" fill="#000" stroke="#000" stroke-width="4.5" stroke-linejoin="round" stroke-linecap="round"/>
<rect x="1287.5" y="1053.5" width="37" height="37" fill="#000" stroke="#000" stroke-width="4.5" stroke-linejoin="round" stroke-linecap="round"/>
<rect x="1336.1" y="1057.9" width="37" height="37" fill="#000" stroke="#000" stroke-width="4.5" stroke-linejoin="round" stroke-linecap="round"/>
<rect x="1385.1" y="1057.9" width="37" height="37" fill="#000" stroke="#000" stroke-width="4.5" stroke-linejoin="round" stroke-linecap="round"/>
<rect x="1433.7" y="1061.7" width="37" height="37" fill="#000" stroke="#000" stroke-width="4.5" stroke-linejoin="round" stroke-linecap="round"/>
<rect x="1486.3" y="1061.7" width="37" height="37" fill="#000" stroke="#000" stroke-width="4.5" stroke-linejoin="round" stroke-linecap="round"/>
<rect x="1534.9" y="1050.2" width="37" height="37" fill="#000" stroke="#000" stroke-width="4.5" stroke-linejoin="round" stroke-linecap="round"/>
<path d="M568.2 1190.6C576.2 1189.8 599.2 1184.7 616.1 1186C633 1187.3 652.5 1196.2 669.4 1198.2C686.3 1200.2 701.5 1197.5 717.7 1198.2C733.9 1199 750.4 1202 766.6 1202.7C782.9 1203.5 799 1202 815.2 1202.7C831.4 1203.4 847.6 1206 863.8 1206.7C879.9 1207.4 895.9 1206.7 912.1 1206.7C928.3 1206.7 944.8 1206.7 961 1206.7C977.2 1206.7 992.7 1206.7 1009.6 1206.7C1026.5 1206.7 1045.2 1206.7 1062.2 1206.7C1079.2 1206.7 1095.1 1206.7 1111.4 1206.7C1127.7 1206.7 1144 1207.4 1160.2 1206.7C1176.4 1206 1192.6 1203.4 1208.8 1202.7C1225 1202 1241.2 1203.4 1257.4 1202.7C1273.6 1202 1289.8 1200 1306 1198.8C1322.2 1197.5 1338.3 1197.2 1354.6 1195.2C1370.9 1193.2 1387.3 1188.8 1403.6 1186.7C1419.9 1184.6 1435.3 1184.6 1452.2 1182.5C1469.1 1180.4 1487.9 1177.6 1504.8 1174.3C1521.7 1171 1545.3 1164.5 1553.4 1162.5" fill="none" stroke="#000" stroke-width="4.2" stroke-linejoin="round" stroke-linecap="round"/>
<path d="M568.2 1170.5L588.2 1190.6L568.2 1210.6L548.2 1190.6Z" fill="#fff" stroke="#000" stroke-width="4.6" stroke-linejoin="round" stroke-linecap="round"/>
<path d="M616.1 1166L636.1 1186L616.1 1206L596.1 1186Z" fill="#fff" stroke="#000" stroke-width="4.6" stroke-linejoin="round" stroke-linecap="round"/>
<path d="M669.4 1178.2L689.4 1198.2L669.4 1218.2L649.4 1198.2Z" fill="#fff" stroke="#000" stroke-width="4.6" stroke-linejoin="round" stroke-linecap="round"/>
<path d="M717.7 1178.2L737.8 1198.2L717.7 1218.2L697.7 1198.2Z" fill="#fff" stroke="#000" stroke-width="4.6" stroke-linejoin="round" stroke-linecap="round"/>
<path d="M766.6 1182.7L786.6 1202.7L766.6 1222.8L746.6 1202.7Z" fill="#fff" stroke="#000" stroke-width="4.6" stroke-linejoin="round" stroke-linecap="round"/>
<path d="M815.2 1182.7L835.2 1202.7L815.2 1222.8L795.2 1202.7Z" fill="#fff" stroke="#000" stroke-width="4.6" stroke-linejoin="round" stroke-linecap="round"/>
<path d="M863.8 1186.7L883.8 1206.7L863.8 1226.8L843.8 1206.7Z" fill="#fff" stroke="#000" stroke-width="4.6" stroke-linejoin="round" stroke-linecap="round"/>
<path d="M912.1 1186.7L932.1 1206.7L912.1 1226.8L892.1 1206.7Z" fill="#fff" stroke="#000" stroke-width="4.6" stroke-linejoin="round" stroke-linecap="round"/>
<path d="M961 1186.7L981 1206.7L961 1226.8L941 1206.7Z" fill="#fff" stroke="#000" stroke-width="4.6" stroke-linejoin="round" stroke-linecap="round"/>
<path d="M1009.6 1186.7L1029.7 1206.7L1009.6 1226.8L989.6 1206.7Z" fill="#fff" stroke="#000" stroke-width="4.6" stroke-linejoin="round" stroke-linecap="round"/>
<path d="M1062.2 1186.7L1082.2 1206.7L1062.2 1226.8L1042.2 1206.7Z" fill="#fff" stroke="#000" stroke-width="4.6" stroke-linejoin="round" stroke-linecap="round"/>
<path d="M1111.4 1186.7L1131.5 1206.7L1111.4 1226.8L1091.4 1206.7Z" fill="#fff" stroke="#000" stroke-width="4.6" stroke-linejoin="round" stroke-linecap="round"/>
<path d="M1160.2 1186.7L1180.2 1206.7L1160.2 1226.8L1140.2 1206.7Z" fill="#fff" stroke="#000" stroke-width="4.6" stroke-linejoin="round" stroke-linecap="round"/>
<path d="M1208.8 1182.7L1228.8 1202.7L1208.8 1222.8L1188.8 1202.7Z" fill="#fff" stroke="#000" stroke-width="4.6" stroke-linejoin="round" stroke-linecap="round"/>
<path d="M1257.4 1182.7L1277.5 1202.7L1257.4 1222.8L1237.4 1202.7Z" fill="#fff" stroke="#000" stroke-width="4.6" stroke-linejoin="round" stroke-linecap="round"/>
<path d="M1306 1178.8L1326 1198.8L1306 1218.8L1286 1198.8Z" fill="#fff" stroke="#000" stroke-width="4.6" stroke-linejoin="round" stroke-linecap="round"/>
<path d="M1354.6 1175.2L1374.6 1195.2L1354.6 1215.2L1334.5 1195.2Z" fill="#fff" stroke="#000" stroke-width="4.6" stroke-linejoin="round" stroke-linecap="round"/>
<path d="M1403.6 1166.7L1423.6 1186.7L1403.6 1206.8L1383.5 1186.7Z" fill="#fff" stroke="#000" stroke-width="4.6" stroke-linejoin="round" stroke-linecap="round"/>
<path d="M1452.2 1162.5L1472.2 1182.5L1452.2 1202.5L1432.2 1182.5Z" fill="#fff" stroke="#000" stroke-width="4.6" stroke-linejoin="round" stroke-linecap="round"/>
<path d="M1504.8 1154.2L1524.8 1174.3L1504.8 1194.3L1484.8 1174.3Z" fill="#fff" stroke="#000" stroke-width="4.6" stroke-linejoin="round" stroke-linecap="round"/>
<path d="M1553.4 1142.5L1573.5 1162.5L1553.4 1182.5L1533.4 1162.5Z" fill="#fff" stroke="#000" stroke-width="4.6" stroke-linejoin="round" stroke-linecap="round"/>
<path d="M568.2 1168.6C576.2 1170.2 599.2 1174.5 616.1 1178C633 1181.5 652.5 1187.6 669.4 1189.5C686.3 1191.4 701.5 1188.8 717.7 1189.5C733.9 1190.2 750.4 1193.2 766.6 1194C782.9 1194.8 799 1193.4 815.2 1194C831.4 1194.6 847.6 1197.1 863.8 1197.7C879.9 1198.3 895.9 1197.7 912.1 1197.7C928.3 1197.7 944.8 1197.7 961 1197.7C977.2 1197.7 992.7 1197.7 1009.6 1197.7C1026.5 1197.7 1045.2 1197.7 1062.2 1197.7C1079.2 1197.7 1095.1 1197.7 1111.4 1197.7C1127.7 1197.7 1144 1198.3 1160.2 1197.7C1176.4 1197.1 1192.6 1194.6 1208.8 1194C1225 1193.4 1241.2 1194.6 1257.4 1194C1273.6 1193.4 1289.8 1191.6 1306 1190.5C1322.2 1189.4 1338.3 1189.2 1354.6 1187.5C1370.9 1185.8 1387.3 1181.9 1403.6 1180C1419.9 1178.1 1435.3 1177.2 1452.2 1176C1469.1 1174.8 1487.9 1175.2 1504.8 1173C1521.7 1170.8 1545.3 1164.2 1553.4 1162.5" fill="none" stroke="#000" stroke-width="4.2" stroke-linejoin="round" stroke-linecap="round"/>
<path d="M568.2 1148.8L588 1168.6L568.2 1188.3L548.5 1168.6Z" fill="#000" stroke="#000" stroke-width="4.5" stroke-linejoin="round" stroke-linecap="round"/>
<path d="M616.1 1158.2L635.9 1178L616.1 1197.8L596.4 1178Z" fill="#000" stroke="#000" stroke-width="4.5" stroke-linejoin="round" stroke-linecap="round"/>
<path d="M669.4 1169.8L689.1 1189.5L669.4 1209.2L649.6 1189.5Z" fill="#000" stroke="#000" stroke-width="4.5" stroke-linejoin="round" stroke-linecap="round"/>
<path d="M717.7 1169.8L737.5 1189.5L717.7 1209.2L698 1189.5Z" fill="#000" stroke="#000" stroke-width="4.5" stroke-linejoin="round" stroke-linecap="round"/>
<path d="M766.6 1174.2L786.4 1194L766.6 1213.8L746.9 1194Z" fill="#000" stroke="#000" stroke-width="4.5" stroke-linejoin="round" stroke-linecap="round"/>
<path d="M815.2 1174.2L835 1194L815.2 1213.8L795.5 1194Z" fill="#000" stroke="#000" stroke-width="4.5" stroke-linejoin="round" stroke-linecap="round"/>
<path d="M863.8 1178L883.5 1197.7L863.8 1217.5L844 1197.7Z" fill="#000" stroke="#000" stroke-width="4.5" stroke-linejoin="round" stroke-linecap="round"/>
<path d="M912.1 1178L931.9 1197.7L912.1 1217.5L892.4 1197.7Z" fill="#000" stroke="#000" stroke-width="4.5" stroke-linejoin="round" stroke-linecap="round"/>
<path d="M961 1178L980.8 1197.7L961 1217.5L941.2 1197.7Z" fill="#000" stroke="#000" stroke-width="4.5" stroke-linejoin="round" stroke-linecap="round"/>
<path d="M1009.6 1178L1029.3 1197.7L1009.6 1217.5L989.9 1197.7Z" fill="#000" stroke="#000" stroke-width="4.5" stroke-linejoin="round" stroke-linecap="round"/>
<path d="M1062.2 1178L1082 1197.7L1062.2 1217.5L1042.5 1197.7Z" fill="#000" stroke="#000" stroke-width="4.5" stroke-linejoin="round" stroke-linecap="round"/>
<path d="M1111.4 1178L1131.2 1197.7L1111.4 1217.5L1091.7 1197.7Z" fill="#000" stroke="#000" stroke-width="4.5" stroke-linejoin="round" stroke-linecap="round"/>
<path d="M1160.2 1178L1180 1197.7L1160.2 1217.5L1140.5 1197.7Z" fill="#000" stroke="#000" stroke-width="4.5" stroke-linejoin="round" stroke-linecap="round"/>
<path d="M1208.8 1174.2L1228.5 1194L1208.8 1213.8L1189 1194Z" fill="#000" stroke="#000" stroke-width="4.5" stroke-linejoin="round" stroke-linecap="round"/>
<path d="M1257.4 1174.2L1277.2 1194L1257.4 1213.8L1237.7 1194Z" fill="#000" stroke="#000" stroke-width="4.5" stroke-linejoin="round" stroke-linecap="round"/>
<path d="M1306 1170.8L1325.8 1190.5L1306 1210.2L1286.2 1190.5Z" fill="#000" stroke="#000" stroke-width="4.5" stroke-linejoin="round" stroke-linecap="round"/>
<path d="M1354.6 1167.8L1374.3 1187.5L1354.6 1207.2L1334.8 1187.5Z" fill="#000" stroke="#000" stroke-width="4.5" stroke-linejoin="round" stroke-linecap="round"/>
<path d="M1403.6 1160.2L1423.3 1180L1403.6 1199.8L1383.8 1180Z" fill="#000" stroke="#000" stroke-width="4.5" stroke-linejoin="round" stroke-linecap="round"/>
<path d="M1452.2 1156.2L1472 1176L1452.2 1195.8L1432.5 1176Z" fill="#000" stroke="#000" stroke-width="4.5" stroke-linejoin="round" stroke-linecap="round"/>
<path d="M1504.8 1153.2L1524.5 1173L1504.8 1192.8L1485 1173Z" fill="#000" stroke="#000" stroke-width="4.5" stroke-linejoin="round" stroke-linecap="round"/>
<path d="M1553.4 1142.8L1573.2 1162.5L1553.4 1182.2L1533.7 1162.5Z" fill="#000" stroke="#000" stroke-width="4.5" stroke-linejoin="round" stroke-linecap="round"/>
<path d="M568.2 1154C576.2 1154.7 599.2 1156.6 616.1 1158C633 1159.4 652.5 1160.4 669.4 1162.2C686.3 1164 701.5 1167.2 717.7 1169C733.9 1170.8 750.4 1171.5 766.6 1173C782.9 1174.5 799 1177.2 815.2 1178C831.4 1178.8 847.6 1178 863.8 1178C879.9 1178 895.9 1178 912.1 1178C928.3 1178 944.8 1178 961 1178C977.2 1178 992.7 1178 1009.6 1178C1026.5 1178 1045.2 1178 1062.2 1178C1079.2 1178 1095.1 1178 1111.4 1178C1127.7 1178 1144 1178 1160.2 1178C1176.4 1178 1192.6 1181.4 1208.8 1178C1225 1174.6 1249.3 1161.1 1257.4 1157.7" fill="none" stroke="#000" stroke-width="4.2" stroke-linejoin="round" stroke-linecap="round"/>
<path d="M568.2 1134L588.2 1154L568.2 1174L548.2 1154Z" fill="none" stroke="#000" stroke-width="4.6" stroke-linejoin="round" stroke-linecap="round"/>
<path d="M616.1 1138L636.1 1158L616.1 1178L596.1 1158Z" fill="none" stroke="#000" stroke-width="4.6" stroke-linejoin="round" stroke-linecap="round"/>
<path d="M669.4 1142.2L689.4 1162.2L669.4 1182.2L649.4 1162.2Z" fill="none" stroke="#000" stroke-width="4.6" stroke-linejoin="round" stroke-linecap="round"/>
<path d="M717.7 1149L737.8 1169L717.7 1189L697.7 1169Z" fill="none" stroke="#000" stroke-width="4.6" stroke-linejoin="round" stroke-linecap="round"/>
<path d="M766.6 1153L786.6 1173L766.6 1193L746.6 1173Z" fill="none" stroke="#000" stroke-width="4.6" stroke-linejoin="round" stroke-linecap="round"/>
<path d="M815.2 1158L835.2 1178L815.2 1198L795.2 1178Z" fill="none" stroke="#000" stroke-width="4.6" stroke-linejoin="round" stroke-linecap="round"/>
<path d="M863.8 1158L883.8 1178L863.8 1198L843.8 1178Z" fill="none" stroke="#000" stroke-width="4.6" stroke-linejoin="round" stroke-linecap="round"/>
<path d="M912.1 1158L932.1 1178L912.1 1198L892.1 1178Z" fill="none" stroke="#000" stroke-width="4.6" stroke-linejoin="round" stroke-linecap="round"/>
<path d="M961 1158L981 1178L961 1198L941 1178Z" fill="none" stroke="#000" stroke-width="4.6" stroke-linejoin="round" stroke-linecap="round"/>
<path d="M1009.6 1158L1029.7 1178L1009.6 1198L989.6 1178Z" fill="none" stroke="#000" stroke-width="4.6" stroke-linejoin="round" stroke-linecap="round"/>
<path d="M1062.2 1158L1082.2 1178L1062.2 1198L1042.2 1178Z" fill="none" stroke="#000" stroke-width="4.6" stroke-linejoin="round" stroke-linecap="round"/>
<path d="M1111.4 1158L1131.5 1178L1111.4 1198L1091.4 1178Z" fill="none" stroke="#000" stroke-width="4.6" stroke-linejoin="round" stroke-linecap="round"/>
<path d="M1160.2 1158L1180.2 1178L1160.2 1198L1140.2 1178Z" fill="none" stroke="#000" stroke-width="4.6" stroke-linejoin="round" stroke-linecap="round"/>
<path d="M1208.8 1158L1228.8 1178L1208.8 1198L1188.8 1178Z" fill="none" stroke="#000" stroke-width="4.6" stroke-linejoin="round" stroke-linecap="round"/>
<path d="M1257.4 1137.7L1277.5 1157.7L1257.4 1177.8L1237.4 1157.7Z" fill="none" stroke="#000" stroke-width="4.6" stroke-linejoin="round" stroke-linecap="round"/>
<path d="M568.2 1165C576.2 1163.2 599.2 1154.2 616.1 1154C633 1153.8 652.5 1162 669.4 1164C686.3 1166 701.5 1165.2 717.7 1166.2C733.9 1167.2 750.4 1168.5 766.6 1169.8C782.9 1171 799 1173 815.2 1173.7C831.4 1174.4 847.6 1173.7 863.8 1173.7C879.9 1173.7 895.9 1173.7 912.1 1173.7C928.3 1173.7 944.8 1173.7 961 1173.7C977.2 1173.7 992.7 1173.7 1009.6 1173.7C1026.5 1173.7 1045.2 1173.7 1062.2 1173.7C1079.2 1173.7 1095.1 1173.7 1111.4 1173.7C1127.7 1173.7 1144 1173.7 1160.2 1173.7C1176.4 1173.7 1192.6 1173.1 1208.8 1173.7C1225 1174.3 1241.2 1176.9 1257.4 1177.6C1273.6 1178.2 1289.8 1178.2 1306 1177.6C1322.2 1176.9 1338.3 1174.3 1354.6 1173.7C1370.9 1173.1 1387.3 1175.7 1403.6 1173.7C1419.9 1171.7 1435.3 1161.5 1452.2 1161.6C1469.1 1161.7 1487.9 1174.1 1504.8 1174.3C1521.7 1174.5 1545.3 1164.5 1553.4 1162.5" fill="none" stroke="#000" stroke-width="4.2" stroke-linejoin="round" stroke-linecap="round"/>
<path d="M568.2 1145.2L588 1165L568.2 1184.8L548.5 1165Z" fill="#000" stroke="#000" stroke-width="4.5" stroke-linejoin="round" stroke-linecap="round"/>
<path d="M616.1 1134.2L635.9 1154L616.1 1173.8L596.4 1154Z" fill="#000" stroke="#000" stroke-width="4.5" stroke-linejoin="round" stroke-linecap="round"/>
<path d="M669.4 1144.2L689.1 1164L669.4 1183.8L649.6 1164Z" fill="#000" stroke="#000" stroke-width="4.5" stroke-linejoin="round" stroke-linecap="round"/>
<path d="M717.7 1146.5L737.5 1166.2L717.7 1186L698 1166.2Z" fill="#000" stroke="#000" stroke-width="4.5" stroke-linejoin="round" stroke-linecap="round"/>
<path d="M766.6 1150L786.4 1169.8L766.6 1189.5L746.9 1169.8Z" fill="#000" stroke="#000" stroke-width="4.5" stroke-linejoin="round" stroke-linecap="round"/>
<path d="M815.2 1154L835 1173.7L815.2 1193.5L795.5 1173.7Z" fill="#000" stroke="#000" stroke-width="4.5" stroke-linejoin="round" stroke-linecap="round"/>
<path d="M863.8 1154L883.5 1173.7L863.8 1193.5L844 1173.7Z" fill="#000" stroke="#000" stroke-width="4.5" stroke-linejoin="round" stroke-linecap="round"/>
<path d="M912.1 1154L931.9 1173.7L912.1 1193.5L892.4 1173.7Z" fill="#000" stroke="#000" stroke-width="4.5" stroke-linejoin="round" stroke-linecap="round"/>
<path d="M961 1154L980.8 1173.7L961 1193.5L941.2 1173.7Z" fill="#000" stroke="#000" stroke-width="4.5" stroke-linejoin="round" stroke-linecap="round"/>
<path d="M1009.6 1154L1029.3 1173.7L1009.6 1193.5L989.9 1173.7Z" fill="#000" stroke="#000" stroke-width="4.5" stroke-linejoin="round" stroke-linecap="round"/>
<path d="M1062.2 1154L1082 1173.7L1062.2 1193.5L1042.5 1173.7Z" fill="#000" stroke="#000" stroke-width="4.5" stroke-linejoin="round" stroke-linecap="round"/>
<path d="M1111.4 1154L1131.2 1173.7L1111.4 1193.5L1091.7 1173.7Z" fill="#000" stroke="#000" stroke-width="4.5" stroke-linejoin="round" stroke-linecap="round"/>
<path d="M1160.2 1154L1180 1173.7L1160.2 1193.5L1140.5 1173.7Z" fill="#000" stroke="#000" stroke-width="4.5" stroke-linejoin="round" stroke-linecap="round"/>
<path d="M1208.8 1154L1228.5 1173.7L1208.8 1193.5L1189 1173.7Z" fill="#000" stroke="#000" stroke-width="4.5" stroke-linejoin="round" stroke-linecap="round"/>
<path d="M1257.4 1157.8L1277.2 1177.6L1257.4 1197.3L1237.7 1177.6Z" fill="#000" stroke="#000" stroke-width="4.5" stroke-linejoin="round" stroke-linecap="round"/>
<path d="M1306 1157.8L1325.8 1177.6L1306 1197.3L1286.2 1177.6Z" fill="#000" stroke="#000" stroke-width="4.5" stroke-linejoin="round" stroke-linecap="round"/>
<path d="M1354.6 1154L1374.3 1173.7L1354.6 1193.5L1334.8 1173.7Z" fill="#000" stroke="#000" stroke-width="4.5" stroke-linejoin="round" stroke-linecap="round"/>
<path d="M1403.6 1154L1423.3 1173.7L1403.6 1193.5L1383.8 1173.7Z" fill="#000" stroke="#000" stroke-width="4.5" stroke-linejoin="round" stroke-linecap="round"/>
<path d="M1452.2 1141.8L1472 1161.6L1452.2 1181.3L1432.5 1161.6Z" fill="#000" stroke="#000" stroke-width="4.5" stroke-linejoin="round" stroke-linecap="round"/>
<path d="M1504.8 1154.5L1524.5 1174.3L1504.8 1194L1485 1174.3Z" fill="#000" stroke="#000" stroke-width="4.5" stroke-linejoin="round" stroke-linecap="round"/>
<path d="M1553.4 1142.8L1573.2 1162.5L1553.4 1182.2L1533.7 1162.5Z" fill="#000" stroke="#000" stroke-width="4.5" stroke-linejoin="round" stroke-linecap="round"/>
<text x="44.7" y="1393.3" font-size="63" font-weight="bold">0.001</text>
<text x="76.2" y="1072.7" font-size="63" font-weight="bold">0.01</text>
<text x="107.7" y="749.9" font-size="63" font-weight="bold">0.1</text>
<text x="155" y="430.6" font-size="63" font-weight="bold">1</text>
<text x="123.8" y="107.1" font-size="63" font-weight="bold" letter-spacing="4.00">10</text>
<text x="181.9" y="1481.3" font-size="63" font-weight="bold">0.01</text>
<text x="688" y="1481.3" font-size="63" font-weight="bold">0.1</text>
<text x="1198.6" y="1481.3" font-size="63" font-weight="bold">1</text>
<text x="1673.7" y="1481.3" font-size="63" font-weight="bold" letter-spacing="4.00">10</text>
<text x="2144.7" y="1481.3" font-size="63" font-weight="bold" letter-spacing="2.75">100</text>
<text x="383" y="174.4" font-size="112" font-weight="bold" text-anchor="start">η</text>
<text x="482.1" y="174.4" font-size="62" letter-spacing="0.84">(Pa s)</text>
<text x="2034" y="1289" font-size="96" font-weight="bold" text-anchor="start">τ</text>
<text x="2104.3" y="1288.2" font-size="62" letter-spacing="1.53">(Pa)</text>
<text x="1044" y="152.8" font-size="96" font-weight="bold" text-anchor="start">A)</text>
<rect x="1630" y="31" width="626" height="645" fill="#fff"/>
<path d="M1630 31h2v645h-2zM1630 31h626v2h-626zM2255 31h1v645h-1zM1630 675h626v1h-626z" fill="#000" shape-rendering="crispEdges"/>
<path d="M1714.5 65.2L1827 65.2" stroke="#000" stroke-width="4.2" stroke-linecap="butt"/>
<path d="M1768.2 53.4L1780 77L1756.4 77Z" fill="#fff" stroke="#000" stroke-width="4.2" stroke-linejoin="round" stroke-linecap="round"/>
<text x="1839.3" y="76.2" font-size="44" text-anchor="start" textLength="227.5" lengthAdjust="spacing">0.1% 10min</text>
<path d="M1714.5 117L1827 117" stroke="#000" stroke-width="4.2" stroke-linecap="butt"/>
<path d="M1768.2 105.2L1780 128.8L1756.4 128.8Z" fill="#000" stroke="#000" stroke-width="4.2" stroke-linejoin="round" stroke-linecap="round"/>
<text x="1839.3" y="128" font-size="44" text-anchor="start" textLength="346.6" lengthAdjust="spacing">0.1% 10min borax</text>
<path d="M1714.5 168.9L1827 168.9" stroke="#000" stroke-width="4.2" stroke-linecap="butt"/>
<path d="M1768.2 157.1L1780 180.7L1756.4 180.7Z" fill="none" stroke="#000" stroke-width="4.2" stroke-linejoin="round" stroke-linecap="round"/>
<text x="1839.3" y="179.9" font-size="44" text-anchor="start" textLength="227.5" lengthAdjust="spacing">0.5% 10min</text>
<path d="M1714.5 220.7L1827 220.7" stroke="#000" stroke-width="4.2" stroke-linecap="butt"/>
<path d="M1768.2 208.9L1780 232.5L1756.4 232.5Z" fill="#000" stroke="#000" stroke-width="4.2" stroke-linejoin="round" stroke-linecap="round"/>
<text x="1839.3" y="231.7" font-size="44" text-anchor="start" textLength="346.6" lengthAdjust="spacing">0.5% 10min borax</text>
<path d="M1714.5 272.6L1827 272.6" stroke="#000" stroke-width="4.2" stroke-linecap="butt"/>
<rect x="1757.4" y="261.8" width="21.6" height="21.6" fill="#fff" stroke="#000" stroke-width="4.2" stroke-linejoin="round" stroke-linecap="round"/>
<text x="1839.3" y="283.6" font-size="44" text-anchor="start" textLength="227.5" lengthAdjust="spacing">0.1% 30min</text>
<path d="M1714.5 324.4L1827 324.4" stroke="#000" stroke-width="4.2" stroke-linecap="butt"/>
<rect x="1757.4" y="313.6" width="21.6" height="21.6" fill="#000" stroke="#000" stroke-width="4.2" stroke-linejoin="round" stroke-linecap="round"/>
<text x="1839.3" y="335.4" font-size="44" text-anchor="start" textLength="346.6" lengthAdjust="spacing">0.1% 30min borax</text>
<path d="M1714.5 376.2L1827 376.2" stroke="#000" stroke-width="4.2" stroke-linecap="butt"/>
<rect x="1757.4" y="365.4" width="21.6" height="21.6" fill="none" stroke="#000" stroke-width="4.2" stroke-linejoin="round" stroke-linecap="round"/>
<text x="1839.3" y="387.2" font-size="44" text-anchor="start" textLength="227.5" lengthAdjust="spacing">0.5% 30min</text>
<path d="M1714.5 428.1L1827 428.1" stroke="#000" stroke-width="4.2" stroke-linecap="butt"/>
<rect x="1757.4" y="417.3" width="21.6" height="21.6" fill="#000" stroke="#000" stroke-width="4.2" stroke-linejoin="round" stroke-linecap="round"/>
<text x="1839.3" y="439.1" font-size="44" text-anchor="start" textLength="346.6" lengthAdjust="spacing">0.5% 30min borax</text>
<path d="M1714.5 479.9L1827 479.9" stroke="#000" stroke-width="4.2" stroke-linecap="butt"/>
<path d="M1768.2 468.3L1779.9 479.9L1768.2 491.6L1756.5 479.9Z" fill="#fff" stroke="#000" stroke-width="4.2" stroke-linejoin="round" stroke-linecap="round"/>
<text x="1839.3" y="490.9" font-size="44" text-anchor="start" textLength="227.5" lengthAdjust="spacing">0.1% 90min</text>
<path d="M1714.5 531.8L1827 531.8" stroke="#000" stroke-width="4.2" stroke-linecap="butt"/>
<path d="M1768.2 520.1L1779.9 531.8L1768.2 543.4L1756.5 531.8Z" fill="#000" stroke="#000" stroke-width="4.2" stroke-linejoin="round" stroke-linecap="round"/>
<text x="1839.3" y="542.8" font-size="44" text-anchor="start" textLength="346.6" lengthAdjust="spacing">0.1% 90min borax</text>
<path d="M1714.5 583.6L1827 583.6" stroke="#000" stroke-width="4.2" stroke-linecap="butt"/>
<path d="M1768.2 572L1779.9 583.6L1768.2 595.3L1756.5 583.6Z" fill="none" stroke="#000" stroke-width="4.2" stroke-linejoin="round" stroke-linecap="round"/>
<text x="1839.3" y="594.6" font-size="44" text-anchor="start" textLength="227.5" lengthAdjust="spacing">0.5% 90min</text>
<path d="M1714.5 635.4L1827 635.4" stroke="#000" stroke-width="4.2" stroke-linecap="butt"/>
<path d="M1768.2 623.8L1779.9 635.4L1768.2 647.1L1756.5 635.4Z" fill="#000" stroke="#000" stroke-width="4.2" stroke-linejoin="round" stroke-linecap="round"/>
<text x="1839.3" y="646.4" font-size="44" text-anchor="start" textLength="346.6" lengthAdjust="spacing">0.5% 90min borax</text>
<path d="M23 1550h2v1476h-2zM23 1550h2238v1h-2238zM2259 1550h2v1476h-2zM23 3025h2238v1h-2238z" fill="#000" shape-rendering="crispEdges"/>
<g fill="none" stroke="#000" stroke-width="9" stroke-linecap="round" stroke-linejoin="round"><path d="M255.5 1601.5L255.5 2886.3L2194.7 2886.3M401.4 2886.3L401.4 2874.5M486.8 2886.3L486.8 2874.5M547.4 2886.3L547.4 2874.5M594.4 2886.3L594.4 2874.5M632.7 2886.3L632.7 2874.5M665.2 2886.3L665.2 2874.5M693.3 2886.3L693.3 2874.5M718.1 2886.3L718.1 2874.5M886.2 2886.3L886.2 2874.5M971.6 2886.3L971.6 2874.5M1032.2 2886.3L1032.2 2874.5M1079.2 2886.3L1079.2 2874.5M1117.5 2886.3L1117.5 2874.5M1150 2886.3L1150 2874.5M1178.1 2886.3L1178.1 2874.5M1202.9 2886.3L1202.9 2874.5M1371 2886.3L1371 2874.5M1456.4 2886.3L1456.4 2874.5M1517 2886.3L1517 2874.5M1564 2886.3L1564 2874.5M1602.3 2886.3L1602.3 2874.5M1634.8 2886.3L1634.8 2874.5M1662.9 2886.3L1662.9 2874.5M1687.7 2886.3L1687.7 2874.5M1855.8 2886.3L1855.8 2874.5M1941.2 2886.3L1941.2 2874.5M2001.8 2886.3L2001.8 2874.5M2048.8 2886.3L2048.8 2874.5M2087.1 2886.3L2087.1 2874.5M2119.6 2886.3L2119.6 2874.5M2147.7 2886.3L2147.7 2874.5M2172.5 2886.3L2172.5 2874.5M740.6 2886.3L740.6 2867.1M1227.2 2886.3L1227.2 2867.1M1709.6 2886.3L1709.6 2867.1M2194.7 2886.3L2194.7 2867.1M255.5 2775.8L267 2775.8M255.5 2711.1L267 2711.1M255.5 2665.3L267 2665.3M255.5 2629.7L267 2629.7M255.5 2600.6L267 2600.6M255.5 2576.1L267 2576.1M255.5 2554.8L267 2554.8M255.5 2536L267 2536M255.5 2408.7L267 2408.7M255.5 2344L267 2344M255.5 2298.2L267 2298.2M255.5 2262.6L267 2262.6M255.5 2233.5L267 2233.5M255.5 2209L267 2209M255.5 2187.7L267 2187.7M255.5 2168.9L267 2168.9M255.5 2041.6L267 2041.6M255.5 1976.9L267 1976.9M255.5 1931.1L267 1931.1M255.5 1895.5L267 1895.5M255.5 1866.4L267 1866.4M255.5 1841.9L267 1841.9M255.5 1820.6L267 1820.6M255.5 1801.8L267 1801.8M255.5 2520.6L275 2520.6M255.5 2149.9L275 2149.9M255.5 1784.9L275 1784.9"/></g>
<path d="M581.8 2508.8C589.9 2509.4 614.1 2511.8 630.5 2512.4C646.9 2513 663.8 2513.8 680 2512.4C696.2 2511 711.4 2504 727.5 2504C743.6 2504 760.3 2510.4 776.5 2512.4C792.7 2514.4 808.6 2516.9 824.8 2516C841 2515.1 857.5 2508.6 873.8 2507.1C890 2505.6 906.1 2506.4 922.3 2507.1C938.5 2507.8 954.6 2510.1 970.8 2511.4C987 2512.7 1003.3 2513.7 1019.5 2515C1035.7 2516.3 1052 2518.1 1068.2 2519.4C1084.4 2520.7 1100.3 2522.1 1116.5 2522.6C1132.7 2523.1 1149.2 2521.3 1165.5 2522.6C1181.8 2523.9 1197.8 2528.5 1214 2530.6C1230.2 2532.7 1246.3 2533.9 1262.5 2535.4C1278.7 2536.9 1294.4 2537.4 1311.3 2539.4C1328.2 2541.4 1347 2544.7 1363.8 2547.4C1380.6 2550.1 1396 2552.9 1412.2 2555.4C1428.4 2557.9 1444.7 2559.3 1461 2562.5C1477.3 2565.7 1493.5 2570.5 1509.8 2574.5C1526 2578.5 1542.3 2582.5 1558.5 2586.5C1574.7 2590.5 1590.8 2594.4 1607 2598.5C1623.2 2602.6 1639.5 2605.9 1655.8 2611.2C1672.1 2616.5 1688.7 2623.2 1705 2630.4C1721.3 2637.6 1737.4 2646.5 1753.5 2654.5C1769.6 2662.5 1785.7 2671.8 1801.8 2678.4C1817.9 2685 1834.2 2690.1 1850.3 2694C1866.4 2697.9 1890.4 2700.7 1898.4 2702" fill="none" stroke="#000" stroke-width="4.2" stroke-linejoin="round" stroke-linecap="round"/>
<path d="M581.8 2496.6L594 2521L569.6 2521Z" fill="none" stroke="#000" stroke-width="4.6" stroke-linejoin="round" stroke-linecap="round"/>
<path d="M630.5 2500.2L642.7 2524.6L618.3 2524.6Z" fill="none" stroke="#000" stroke-width="4.6" stroke-linejoin="round" stroke-linecap="round"/>
<path d="M680 2500.2L692.2 2524.6L667.8 2524.6Z" fill="none" stroke="#000" stroke-width="4.6" stroke-linejoin="round" stroke-linecap="round"/>
<path d="M727.5 2491.8L739.7 2516.2L715.3 2516.2Z" fill="none" stroke="#000" stroke-width="4.6" stroke-linejoin="round" stroke-linecap="round"/>
<path d="M776.5 2500.2L788.7 2524.6L764.3 2524.6Z" fill="none" stroke="#000" stroke-width="4.6" stroke-linejoin="round" stroke-linecap="round"/>
<path d="M824.8 2503.8L837 2528.2L812.6 2528.2Z" fill="none" stroke="#000" stroke-width="4.6" stroke-linejoin="round" stroke-linecap="round"/>
<path d="M873.8 2494.9L886 2519.3L861.6 2519.3Z" fill="none" stroke="#000" stroke-width="4.6" stroke-linejoin="round" stroke-linecap="round"/>
<path d="M922.3 2494.9L934.5 2519.3L910.1 2519.3Z" fill="none" stroke="#000" stroke-width="4.6" stroke-linejoin="round" stroke-linecap="round"/>
<path d="M970.8 2499.2L983 2523.6L958.6 2523.6Z" fill="none" stroke="#000" stroke-width="4.6" stroke-linejoin="round" stroke-linecap="round"/>
<path d="M1019.5 2502.8L1031.7 2527.2L1007.3 2527.2Z" fill="none" stroke="#000" stroke-width="4.6" stroke-linejoin="round" stroke-linecap="round"/>
<path d="M1068.2 2507.2L1080.4 2531.6L1056 2531.6Z" fill="none" stroke="#000" stroke-width="4.6" stroke-linejoin="round" stroke-linecap="round"/>
<path d="M1116.5 2510.4L1128.7 2534.8L1104.3 2534.8Z" fill="none" stroke="#000" stroke-width="4.6" stroke-linejoin="round" stroke-linecap="round"/>
<path d="M1165.5 2510.4L1177.7 2534.8L1153.3 2534.8Z" fill="none" stroke="#000" stroke-width="4.6" stroke-linejoin="round" stroke-linecap="round"/>
<path d="M1214 2518.4L1226.2 2542.8L1201.8 2542.8Z" fill="none" stroke="#000" stroke-width="4.6" stroke-linejoin="round" stroke-linecap="round"/>
<path d="M1262.5 2523.2L1274.7 2547.6L1250.3 2547.6Z" fill="none" stroke="#000" stroke-width="4.6" stroke-linejoin="round" stroke-linecap="round"/>
<path d="M1311.3 2527.2L1323.5 2551.6L1299.1 2551.6Z" fill="none" stroke="#000" stroke-width="4.6" stroke-linejoin="round" stroke-linecap="round"/>
<path d="M1363.8 2535.2L1376 2559.6L1351.6 2559.6Z" fill="none" stroke="#000" stroke-width="4.6" stroke-linejoin="round" stroke-linecap="round"/>
<path d="M1412.2 2543.2L1424.4 2567.6L1400 2567.6Z" fill="none" stroke="#000" stroke-width="4.6" stroke-linejoin="round" stroke-linecap="round"/>
<path d="M1461 2550.3L1473.2 2574.7L1448.8 2574.7Z" fill="none" stroke="#000" stroke-width="4.6" stroke-linejoin="round" stroke-linecap="round"/>
<path d="M1509.8 2562.3L1522 2586.7L1497.6 2586.7Z" fill="none" stroke="#000" stroke-width="4.6" stroke-linejoin="round" stroke-linecap="round"/>
<path d="M1558.5 2574.3L1570.7 2598.7L1546.3 2598.7Z" fill="none" stroke="#000" stroke-width="4.6" stroke-linejoin="round" stroke-linecap="round"/>
<path d="M1607 2586.3L1619.2 2610.7L1594.8 2610.7Z" fill="none" stroke="#000" stroke-width="4.6" stroke-linejoin="round" stroke-linecap="round"/>
<path d="M1655.8 2599L1668 2623.4L1643.6 2623.4Z" fill="none" stroke="#000" stroke-width="4.6" stroke-linejoin="round" stroke-linecap="round"/>
<path d="M1705 2618.2L1717.2 2642.6L1692.8 2642.6Z" fill="none" stroke="#000" stroke-width="4.6" stroke-linejoin="round" stroke-linecap="round"/>
<path d="M1753.5 2642.3L1765.7 2666.7L1741.3 2666.7Z" fill="none" stroke="#000" stroke-width="4.6" stroke-linejoin="round" stroke-linecap="round"/>
<path d="M1801.8 2666.2L1814 2690.6L1789.6 2690.6Z" fill="none" stroke="#000" stroke-width="4.6" stroke-linejoin="round" stroke-linecap="round"/>
<path d="M1850.3 2681.8L1862.5 2706.2L1838.1 2706.2Z" fill="none" stroke="#000" stroke-width="4.6" stroke-linejoin="round" stroke-linecap="round"/>
<path d="M1898.4 2689.8L1910.6 2714.2L1886.2 2714.2Z" fill="none" stroke="#000" stroke-width="4.6" stroke-linejoin="round" stroke-linecap="round"/>
<path d="M581.8 2468C589.9 2472.7 614.1 2492 630.5 2496.1C646.9 2500.2 663.8 2493.8 680 2492.5C696.2 2491.2 711.4 2486.9 727.5 2488.1C743.6 2489.3 760.3 2497 776.5 2499.7C792.7 2502.4 808.6 2503.1 824.8 2504.5C841 2505.9 857.5 2507.5 873.8 2508.1C890 2508.7 906.1 2507.4 922.3 2508.1C938.5 2508.8 954.6 2511.1 970.8 2512.4C987 2513.7 1003.3 2514.7 1019.5 2516C1035.7 2517.3 1052 2519.1 1068.2 2520.4C1084.4 2521.7 1100.3 2523.1 1116.5 2523.6C1132.7 2524.1 1149.2 2522.3 1165.5 2523.6C1181.8 2524.9 1197.8 2529.5 1214 2531.6C1230.2 2533.7 1246.3 2534.9 1262.5 2536.4C1278.7 2537.9 1294.4 2538.4 1311.3 2540.4C1328.2 2542.4 1347 2545.7 1363.8 2548.4C1380.6 2551.1 1396 2553.2 1412.2 2556.4C1428.4 2559.6 1444.7 2563.7 1461 2567.5C1477.3 2571.3 1493.5 2575.5 1509.8 2579.5C1526 2583.5 1542.3 2587.5 1558.5 2591.5C1574.7 2595.5 1590.8 2599.4 1607 2603.5C1623.2 2607.6 1639.5 2610.9 1655.8 2616.2C1672.1 2621.5 1688.7 2628.2 1705 2635.4C1721.3 2642.6 1737.4 2652.2 1753.5 2659.5C1769.6 2666.8 1785.7 2673.5 1801.8 2679.4C1817.9 2685.3 1834.2 2691.1 1850.3 2695C1866.4 2698.9 1890.4 2701.7 1898.4 2703" fill="none" stroke="#000" stroke-width="4.2" stroke-linejoin="round" stroke-linecap="round"/>
<path d="M581.8 2447.8L602 2488.2L561.5 2488.2Z" fill="#000" stroke="#000" stroke-width="4.5" stroke-linejoin="round" stroke-linecap="round"/>
<path d="M630.5 2475.8L650.8 2516.3L610.2 2516.3Z" fill="#000" stroke="#000" stroke-width="4.5" stroke-linejoin="round" stroke-linecap="round"/>
<path d="M680 2472.2L700.2 2512.8L659.8 2512.8Z" fill="#000" stroke="#000" stroke-width="4.5" stroke-linejoin="round" stroke-linecap="round"/>
<path d="M727.5 2467.8L747.8 2508.3L707.2 2508.3Z" fill="#000" stroke="#000" stroke-width="4.5" stroke-linejoin="round" stroke-linecap="round"/>
<path d="M776.5 2479.4L796.8 2519.9L756.2 2519.9Z" fill="#000" stroke="#000" stroke-width="4.5" stroke-linejoin="round" stroke-linecap="round"/>
<path d="M824.8 2484.2L845 2524.8L804.5 2524.8Z" fill="#000" stroke="#000" stroke-width="4.5" stroke-linejoin="round" stroke-linecap="round"/>
<path d="M873.8 2487.8L894 2528.3L853.5 2528.3Z" fill="#000" stroke="#000" stroke-width="4.5" stroke-linejoin="round" stroke-linecap="round"/>
<path d="M922.3 2487.8L942.5 2528.3L902 2528.3Z" fill="#000" stroke="#000" stroke-width="4.5" stroke-linejoin="round" stroke-linecap="round"/>
<path d="M970.8 2492.2L991 2532.7L950.5 2532.7Z" fill="#000" stroke="#000" stroke-width="4.5" stroke-linejoin="round" stroke-linecap="round"/>
<path d="M1019.5 2495.8L1039.8 2536.2L999.2 2536.2Z" fill="#000" stroke="#000" stroke-width="4.5" stroke-linejoin="round" stroke-linecap="round"/>
<path d="M1068.2 2500.2L1088.5 2540.7L1048 2540.7Z" fill="#000" stroke="#000" stroke-width="4.5" stroke-linejoin="round" stroke-linecap="round"/>
<path d="M1116.5 2503.3L1136.8 2543.8L1096.2 2543.8Z" fill="#000" stroke="#000" stroke-width="4.5" stroke-linejoin="round" stroke-linecap="round"/>
<path d="M1165.5 2503.3L1185.8 2543.8L1145.2 2543.8Z" fill="#000" stroke="#000" stroke-width="4.5" stroke-linejoin="round" stroke-linecap="round"/>
<path d="M1214 2511.3L1234.2 2551.8L1193.8 2551.8Z" fill="#000" stroke="#000" stroke-width="4.5" stroke-linejoin="round" stroke-linecap="round"/>
<path d="M1262.5 2516.2L1282.8 2556.7L1242.2 2556.7Z" fill="#000" stroke="#000" stroke-width="4.5" stroke-linejoin="round" stroke-linecap="round"/>
<path d="M1311.3 2520.2L1331.5 2560.7L1291 2560.7Z" fill="#000" stroke="#000" stroke-width="4.5" stroke-linejoin="round" stroke-linecap="round"/>
<path d="M1363.8 2528.2L1384 2568.7L1343.5 2568.7Z" fill="#000" stroke="#000" stroke-width="4.5" stroke-linejoin="round" stroke-linecap="round"/>
<path d="M1412.2 2536.2L1432.5 2576.7L1392 2576.7Z" fill="#000" stroke="#000" stroke-width="4.5" stroke-linejoin="round" stroke-linecap="round"/>
<path d="M1461 2547.2L1481.2 2587.8L1440.8 2587.8Z" fill="#000" stroke="#000" stroke-width="4.5" stroke-linejoin="round" stroke-linecap="round"/>
<path d="M1509.8 2559.2L1530 2599.8L1489.5 2599.8Z" fill="#000" stroke="#000" stroke-width="4.5" stroke-linejoin="round" stroke-linecap="round"/>
<path d="M1558.5 2571.2L1578.8 2611.8L1538.2 2611.8Z" fill="#000" stroke="#000" stroke-width="4.5" stroke-linejoin="round" stroke-linecap="round"/>
<path d="M1607 2583.2L1627.2 2623.8L1586.8 2623.8Z" fill="#000" stroke="#000" stroke-width="4.5" stroke-linejoin="round" stroke-linecap="round"/>
<path d="M1655.8 2595.9L1676 2636.4L1635.5 2636.4Z" fill="#000" stroke="#000" stroke-width="4.5" stroke-linejoin="round" stroke-linecap="round"/>
<path d="M1705 2615.2L1725.2 2655.7L1684.8 2655.7Z" fill="#000" stroke="#000" stroke-width="4.5" stroke-linejoin="round" stroke-linecap="round"/>
<path d="M1753.5 2639.2L1773.8 2679.8L1733.2 2679.8Z" fill="#000" stroke="#000" stroke-width="4.5" stroke-linejoin="round" stroke-linecap="round"/>
<path d="M1801.8 2659.2L1822 2699.7L1781.5 2699.7Z" fill="#000" stroke="#000" stroke-width="4.5" stroke-linejoin="round" stroke-linecap="round"/>
<path d="M1850.3 2674.8L1870.5 2715.2L1830 2715.2Z" fill="#000" stroke="#000" stroke-width="4.5" stroke-linejoin="round" stroke-linecap="round"/>
<path d="M1898.4 2682.8L1918.7 2723.2L1878.2 2723.2Z" fill="#000" stroke="#000" stroke-width="4.5" stroke-linejoin="round" stroke-linecap="round"/>
<path d="M581.8 2766.5C589.9 2766.3 614.1 2765.1 630.5 2765.5C646.9 2765.9 663.8 2767.9 680 2769C696.2 2770.1 711.4 2771.5 727.5 2772C743.6 2772.5 760.3 2771.7 776.5 2772C792.7 2772.3 808.6 2773.2 824.8 2773.8C841 2774.4 857.5 2775.2 873.8 2775.6C890 2776 906.1 2776.2 922.3 2776.3C938.5 2776.4 954.6 2776.3 970.8 2776.3C987 2776.3 1003.3 2776.3 1019.5 2776.3C1035.7 2776.3 1052 2776.3 1068.2 2776.3C1084.4 2776.3 1100.3 2776.4 1116.5 2776.4C1132.7 2776.4 1149.2 2776.4 1165.5 2776.4C1181.8 2776.4 1197.8 2778.6 1214 2776.4C1230.2 2774.2 1254.4 2765.5 1262.5 2763.3" fill="none" stroke="#000" stroke-width="4.2" stroke-linejoin="round" stroke-linecap="round"/>
<path d="M581.8 2746.4L601.8 2766.5L581.8 2786.6L561.8 2766.5Z" fill="none" stroke="#000" stroke-width="4.6" stroke-linejoin="round" stroke-linecap="round"/>
<path d="M630.5 2745.4L650.5 2765.5L630.5 2785.6L610.5 2765.5Z" fill="none" stroke="#000" stroke-width="4.6" stroke-linejoin="round" stroke-linecap="round"/>
<path d="M680 2748.9L700 2769L680 2789.1L660 2769Z" fill="none" stroke="#000" stroke-width="4.6" stroke-linejoin="round" stroke-linecap="round"/>
<path d="M727.5 2751.9L747.5 2772L727.5 2792.1L707.5 2772Z" fill="none" stroke="#000" stroke-width="4.6" stroke-linejoin="round" stroke-linecap="round"/>
<path d="M776.5 2751.9L796.5 2772L776.5 2792.1L756.5 2772Z" fill="none" stroke="#000" stroke-width="4.6" stroke-linejoin="round" stroke-linecap="round"/>
<path d="M824.8 2753.8L844.8 2773.8L824.8 2793.9L804.8 2773.8Z" fill="none" stroke="#000" stroke-width="4.6" stroke-linejoin="round" stroke-linecap="round"/>
<path d="M873.8 2755.5L893.8 2775.6L873.8 2795.7L853.8 2775.6Z" fill="none" stroke="#000" stroke-width="4.6" stroke-linejoin="round" stroke-linecap="round"/>
<path d="M922.3 2756.2L942.3 2776.3L922.3 2796.4L902.2 2776.3Z" fill="none" stroke="#000" stroke-width="4.6" stroke-linejoin="round" stroke-linecap="round"/>
<path d="M970.8 2756.2L990.8 2776.3L970.8 2796.4L950.8 2776.3Z" fill="none" stroke="#000" stroke-width="4.6" stroke-linejoin="round" stroke-linecap="round"/>
<path d="M1019.5 2756.2L1039.5 2776.3L1019.5 2796.4L999.5 2776.3Z" fill="none" stroke="#000" stroke-width="4.6" stroke-linejoin="round" stroke-linecap="round"/>
<path d="M1068.2 2756.2L1088.2 2776.3L1068.2 2796.4L1048.2 2776.3Z" fill="none" stroke="#000" stroke-width="4.6" stroke-linejoin="round" stroke-linecap="round"/>
<path d="M1116.5 2756.3L1136.5 2776.4L1116.5 2796.5L1096.5 2776.4Z" fill="none" stroke="#000" stroke-width="4.6" stroke-linejoin="round" stroke-linecap="round"/>
<path d="M1165.5 2756.3L1185.5 2776.4L1165.5 2796.5L1145.5 2776.4Z" fill="none" stroke="#000" stroke-width="4.6" stroke-linejoin="round" stroke-linecap="round"/>
<path d="M1214 2756.3L1234 2776.4L1214 2796.5L1194 2776.4Z" fill="none" stroke="#000" stroke-width="4.6" stroke-linejoin="round" stroke-linecap="round"/>
<path d="M1262.5 2743.2L1282.5 2763.3L1262.5 2783.4L1242.5 2763.3Z" fill="none" stroke="#000" stroke-width="4.6" stroke-linejoin="round" stroke-linecap="round"/>
<path d="M534.5 2767.3C542.4 2767.2 565.8 2766.8 581.8 2766.5C597.8 2766.2 614.1 2765.1 630.5 2765.5C646.9 2765.9 663.8 2767.9 680 2769C696.2 2770.1 711.4 2771.5 727.5 2772C743.6 2772.5 760.3 2771.7 776.5 2772C792.7 2772.3 808.6 2773.2 824.8 2773.8C841 2774.4 857.5 2775.2 873.8 2775.6C890 2776 906.1 2776.2 922.3 2776.3C938.5 2776.4 954.6 2776.3 970.8 2776.3C987 2776.3 1003.3 2776.3 1019.5 2776.3C1035.7 2776.3 1052 2776.3 1068.2 2776.3C1084.4 2776.3 1100.3 2776.4 1116.5 2776.4C1132.7 2776.4 1149.2 2776.4 1165.5 2776.4C1181.8 2776.4 1197.8 2776.4 1214 2776.4C1230.2 2776.4 1246.3 2776.7 1262.5 2776.4C1278.7 2776.1 1294.4 2774.7 1311.3 2774.4C1328.2 2774.1 1347 2774.4 1363.8 2774.4C1380.6 2774.4 1396 2775.6 1412.2 2774.4C1428.4 2773.2 1452.9 2768.5 1461 2767.3" fill="none" stroke="#000" stroke-width="4.2" stroke-linejoin="round" stroke-linecap="round"/>
<path d="M534.5 2747.4L554.4 2767.3L534.5 2787.2L514.6 2767.3Z" fill="#000" stroke="#000" stroke-width="4.5" stroke-linejoin="round" stroke-linecap="round"/>
<path d="M581.8 2746.6L601.7 2766.5L581.8 2786.4L561.9 2766.5Z" fill="#000" stroke="#000" stroke-width="4.5" stroke-linejoin="round" stroke-linecap="round"/>
<path d="M630.5 2745.6L650.4 2765.5L630.5 2785.4L610.6 2765.5Z" fill="#000" stroke="#000" stroke-width="4.5" stroke-linejoin="round" stroke-linecap="round"/>
<path d="M680 2749.1L699.9 2769L680 2788.9L660.1 2769Z" fill="#000" stroke="#000" stroke-width="4.5" stroke-linejoin="round" stroke-linecap="round"/>
<path d="M727.5 2752.1L747.4 2772L727.5 2791.9L707.6 2772Z" fill="#000" stroke="#000" stroke-width="4.5" stroke-linejoin="round" stroke-linecap="round"/>
<path d="M776.5 2752.1L796.4 2772L776.5 2791.9L756.6 2772Z" fill="#000" stroke="#000" stroke-width="4.5" stroke-linejoin="round" stroke-linecap="round"/>
<path d="M824.8 2753.9L844.7 2773.8L824.8 2793.7L804.9 2773.8Z" fill="#000" stroke="#000" stroke-width="4.5" stroke-linejoin="round" stroke-linecap="round"/>
<path d="M873.8 2755.7L893.7 2775.6L873.8 2795.5L853.9 2775.6Z" fill="#000" stroke="#000" stroke-width="4.5" stroke-linejoin="round" stroke-linecap="round"/>
<path d="M922.3 2756.4L942.2 2776.3L922.3 2796.2L902.4 2776.3Z" fill="#000" stroke="#000" stroke-width="4.5" stroke-linejoin="round" stroke-linecap="round"/>
<path d="M970.8 2756.4L990.7 2776.3L970.8 2796.2L950.9 2776.3Z" fill="#000" stroke="#000" stroke-width="4.5" stroke-linejoin="round" stroke-linecap="round"/>
<path d="M1019.5 2756.4L1039.4 2776.3L1019.5 2796.2L999.6 2776.3Z" fill="#000" stroke="#000" stroke-width="4.5" stroke-linejoin="round" stroke-linecap="round"/>
<path d="M1068.2 2756.4L1088.1 2776.3L1068.2 2796.2L1048.3 2776.3Z" fill="#000" stroke="#000" stroke-width="4.5" stroke-linejoin="round" stroke-linecap="round"/>
<path d="M1116.5 2756.5L1136.4 2776.4L1116.5 2796.3L1096.6 2776.4Z" fill="#000" stroke="#000" stroke-width="4.5" stroke-linejoin="round" stroke-linecap="round"/>
<path d="M1165.5 2756.5L1185.4 2776.4L1165.5 2796.3L1145.6 2776.4Z" fill="#000" stroke="#000" stroke-width="4.5" stroke-linejoin="round" stroke-linecap="round"/>
<path d="M1214 2756.5L1233.9 2776.4L1214 2796.3L1194.1 2776.4Z" fill="#000" stroke="#000" stroke-width="4.5" stroke-linejoin="round" stroke-linecap="round"/>
<path d="M1262.5 2756.5L1282.4 2776.4L1262.5 2796.3L1242.6 2776.4Z" fill="#000" stroke="#000" stroke-width="4.5" stroke-linejoin="round" stroke-linecap="round"/>
<path d="M1311.3 2754.5L1331.2 2774.4L1311.3 2794.3L1291.4 2774.4Z" fill="#000" stroke="#000" stroke-width="4.5" stroke-linejoin="round" stroke-linecap="round"/>
<path d="M1363.8 2754.5L1383.7 2774.4L1363.8 2794.3L1343.9 2774.4Z" fill="#000" stroke="#000" stroke-width="4.5" stroke-linejoin="round" stroke-linecap="round"/>
<path d="M1412.2 2754.5L1432.1 2774.4L1412.2 2794.3L1392.3 2774.4Z" fill="#000" stroke="#000" stroke-width="4.5" stroke-linejoin="round" stroke-linecap="round"/>
<path d="M1461 2747.4L1480.9 2767.3L1461 2787.2L1441.1 2767.3Z" fill="#000" stroke="#000" stroke-width="4.5" stroke-linejoin="round" stroke-linecap="round"/>
<path d="M581.8 1801.4C589.9 1800.8 614.1 1799.6 630.5 1797.8C646.9 1796 663.8 1792.6 680 1790.5C696.2 1788.4 711.4 1786.6 727.5 1785.1C743.6 1783.6 760.3 1782.1 776.5 1781.5C792.7 1780.9 808.6 1781.5 824.8 1781.5C841 1781.5 857.5 1782.7 873.8 1781.5C890 1780.3 906.1 1774.8 922.3 1774.2C938.5 1773.6 954.6 1778.4 970.8 1777.8C987 1777.2 1003.3 1772.7 1019.5 1770.6C1035.7 1768.5 1052 1767.2 1068.2 1765.1C1084.4 1763 1100.3 1759.5 1116.5 1757.9C1132.7 1756.3 1149.2 1756.5 1165.5 1755.3C1181.8 1754.1 1197.8 1750.5 1214 1750.6C1230.2 1750.7 1246.3 1754.8 1262.5 1756C1278.7 1757.2 1294.4 1756.4 1311.3 1757.9C1328.2 1759.4 1347 1762.4 1363.8 1765.1C1380.6 1767.8 1396 1768.8 1412.2 1774.2C1428.4 1779.6 1444.7 1787 1461 1797.6C1477.3 1808.1 1493.5 1817.2 1509.8 1837.5C1526 1857.8 1542.3 1889.3 1558.5 1919.6C1574.7 1949.9 1590.8 1991.5 1607 2019.4C1623.2 2047.3 1639.5 2061.3 1655.8 2087.2C1672.1 2113.1 1688.7 2136.6 1705 2175C1721.3 2213.4 1737.4 2270 1753.5 2317.6C1769.6 2365.2 1785.7 2422.6 1801.8 2460.4C1817.9 2498.2 1834.2 2522 1850.3 2544.6C1866.4 2567.2 1882.4 2582.2 1898.4 2596C1914.5 2609.8 1930.5 2618.5 1946.6 2627.6C1962.7 2636.7 1978.7 2643.9 1995 2650.4C2011.3 2656.9 2036.2 2664 2044.5 2666.7" fill="none" stroke="#000" stroke-width="4.2" stroke-linejoin="round" stroke-linecap="round"/>
<path d="M560.5 1780.2L603 1822.7M560.5 1822.7L603 1780.2" fill="none" stroke="#000" stroke-width="4"/><path d="M581.8 1780.7L581.8 1822.2" fill="none" stroke="#000" stroke-width="4.7" stroke-linecap="round"/>
<path d="M609.2 1776.5L651.8 1819M609.2 1819L651.8 1776.5" fill="none" stroke="#000" stroke-width="4"/><path d="M630.5 1777L630.5 1818.5" fill="none" stroke="#000" stroke-width="4.7" stroke-linecap="round"/>
<path d="M658.8 1769.2L701.2 1811.8M658.8 1811.8L701.2 1769.2" fill="none" stroke="#000" stroke-width="4"/><path d="M680 1769.8L680 1811.2" fill="none" stroke="#000" stroke-width="4.7" stroke-linecap="round"/>
<path d="M706.2 1763.8L748.8 1806.3M706.2 1806.3L748.8 1763.8" fill="none" stroke="#000" stroke-width="4"/><path d="M727.5 1764.3L727.5 1805.8" fill="none" stroke="#000" stroke-width="4.7" stroke-linecap="round"/>
<path d="M755.2 1760.2L797.8 1802.8M755.2 1802.8L797.8 1760.2" fill="none" stroke="#000" stroke-width="4"/><path d="M776.5 1760.8L776.5 1802.2" fill="none" stroke="#000" stroke-width="4.7" stroke-linecap="round"/>
<path d="M803.5 1760.2L846 1802.8M803.5 1802.8L846 1760.2" fill="none" stroke="#000" stroke-width="4"/><path d="M824.8 1760.8L824.8 1802.2" fill="none" stroke="#000" stroke-width="4.7" stroke-linecap="round"/>
<path d="M852.5 1760.2L895 1802.8M852.5 1802.8L895 1760.2" fill="none" stroke="#000" stroke-width="4"/><path d="M873.8 1760.8L873.8 1802.2" fill="none" stroke="#000" stroke-width="4.7" stroke-linecap="round"/>
<path d="M901 1753L943.5 1795.5M901 1795.5L943.5 1753" fill="none" stroke="#000" stroke-width="4"/><path d="M922.3 1753.5L922.3 1795" fill="none" stroke="#000" stroke-width="4.7" stroke-linecap="round"/>
<path d="M949.5 1756.5L992 1799M949.5 1799L992 1756.5" fill="none" stroke="#000" stroke-width="4"/><path d="M970.8 1757L970.8 1798.5" fill="none" stroke="#000" stroke-width="4.7" stroke-linecap="round"/>
<path d="M998.2 1749.3L1040.8 1791.8M998.2 1791.8L1040.8 1749.3" fill="none" stroke="#000" stroke-width="4"/><path d="M1019.5 1749.8L1019.5 1791.3" fill="none" stroke="#000" stroke-width="4.7" stroke-linecap="round"/>
<path d="M1047 1743.8L1089.5 1786.3M1047 1786.3L1089.5 1743.8" fill="none" stroke="#000" stroke-width="4"/><path d="M1068.2 1744.3L1068.2 1785.8" fill="none" stroke="#000" stroke-width="4.7" stroke-linecap="round"/>
<path d="M1095.2 1736.7L1137.8 1779.2M1095.2 1779.2L1137.8 1736.7" fill="none" stroke="#000" stroke-width="4"/><path d="M1116.5 1737.2L1116.5 1778.7" fill="none" stroke="#000" stroke-width="4.7" stroke-linecap="round"/>
<path d="M1144.2 1734L1186.8 1776.5M1144.2 1776.5L1186.8 1734" fill="none" stroke="#000" stroke-width="4"/><path d="M1165.5 1734.5L1165.5 1776" fill="none" stroke="#000" stroke-width="4.7" stroke-linecap="round"/>
<path d="M1192.8 1729.3L1235.2 1771.8M1192.8 1771.8L1235.2 1729.3" fill="none" stroke="#000" stroke-width="4"/><path d="M1214 1729.8L1214 1771.3" fill="none" stroke="#000" stroke-width="4.7" stroke-linecap="round"/>
<path d="M1241.2 1734.8L1283.8 1777.2M1241.2 1777.2L1283.8 1734.8" fill="none" stroke="#000" stroke-width="4"/><path d="M1262.5 1735.2L1262.5 1776.8" fill="none" stroke="#000" stroke-width="4.7" stroke-linecap="round"/>
<path d="M1290 1736.7L1332.5 1779.2M1290 1779.2L1332.5 1736.7" fill="none" stroke="#000" stroke-width="4"/><path d="M1311.3 1737.2L1311.3 1778.7" fill="none" stroke="#000" stroke-width="4.7" stroke-linecap="round"/>
<path d="M1342.5 1743.8L1385 1786.3M1342.5 1786.3L1385 1743.8" fill="none" stroke="#000" stroke-width="4"/><path d="M1363.8 1744.3L1363.8 1785.8" fill="none" stroke="#000" stroke-width="4.7" stroke-linecap="round"/>
<path d="M1391 1753L1433.5 1795.5M1391 1795.5L1433.5 1753" fill="none" stroke="#000" stroke-width="4"/><path d="M1412.2 1753.5L1412.2 1795" fill="none" stroke="#000" stroke-width="4.7" stroke-linecap="round"/>
<path d="M1439.8 1776.3L1482.2 1818.8M1439.8 1818.8L1482.2 1776.3" fill="none" stroke="#000" stroke-width="4"/><path d="M1461 1776.8L1461 1818.3" fill="none" stroke="#000" stroke-width="4.7" stroke-linecap="round"/>
<path d="M1488.5 1816.2L1531 1858.8M1488.5 1858.8L1531 1816.2" fill="none" stroke="#000" stroke-width="4"/><path d="M1509.8 1816.8L1509.8 1858.2" fill="none" stroke="#000" stroke-width="4.7" stroke-linecap="round"/>
<path d="M1537.2 1898.3L1579.8 1940.8M1537.2 1940.8L1579.8 1898.3" fill="none" stroke="#000" stroke-width="4"/><path d="M1558.5 1898.8L1558.5 1940.3" fill="none" stroke="#000" stroke-width="4.7" stroke-linecap="round"/>
<path d="M1585.8 1998.2L1628.2 2040.7M1585.8 2040.7L1628.2 1998.2" fill="none" stroke="#000" stroke-width="4"/><path d="M1607 1998.7L1607 2040.2" fill="none" stroke="#000" stroke-width="4.7" stroke-linecap="round"/>
<path d="M1634.5 2065.9L1677 2108.4M1634.5 2108.4L1677 2065.9" fill="none" stroke="#000" stroke-width="4"/><path d="M1655.8 2066.4L1655.8 2107.9" fill="none" stroke="#000" stroke-width="4.7" stroke-linecap="round"/>
<path d="M1683.8 2153.8L1726.2 2196.2M1683.8 2196.2L1726.2 2153.8" fill="none" stroke="#000" stroke-width="4"/><path d="M1705 2154.2L1705 2195.8" fill="none" stroke="#000" stroke-width="4.7" stroke-linecap="round"/>
<path d="M1732.2 2296.3L1774.8 2338.8M1732.2 2338.8L1774.8 2296.3" fill="none" stroke="#000" stroke-width="4"/><path d="M1753.5 2296.8L1753.5 2338.3" fill="none" stroke="#000" stroke-width="4.7" stroke-linecap="round"/>
<path d="M1780.5 2439.2L1823 2481.7M1780.5 2481.7L1823 2439.2" fill="none" stroke="#000" stroke-width="4"/><path d="M1801.8 2439.7L1801.8 2481.2" fill="none" stroke="#000" stroke-width="4.7" stroke-linecap="round"/>
<path d="M1829 2523.3L1871.5 2565.8M1829 2565.8L1871.5 2523.3" fill="none" stroke="#000" stroke-width="4"/><path d="M1850.3 2523.8L1850.3 2565.3" fill="none" stroke="#000" stroke-width="4.7" stroke-linecap="round"/>
<path d="M1877.2 2574.8L1919.7 2617.2M1877.2 2617.2L1919.7 2574.8" fill="none" stroke="#000" stroke-width="4"/><path d="M1898.4 2575.2L1898.4 2616.8" fill="none" stroke="#000" stroke-width="4.7" stroke-linecap="round"/>
<path d="M1925.3 2606.3L1967.8 2648.8M1925.3 2648.8L1967.8 2606.3" fill="none" stroke="#000" stroke-width="4"/><path d="M1946.6 2606.8L1946.6 2648.3" fill="none" stroke="#000" stroke-width="4.7" stroke-linecap="round"/>
<path d="M1973.8 2629.2L2016.2 2671.7M1973.8 2671.7L2016.2 2629.2" fill="none" stroke="#000" stroke-width="4"/><path d="M1995 2629.7L1995 2671.2" fill="none" stroke="#000" stroke-width="4.7" stroke-linecap="round"/>
<path d="M2023.2 2645.4L2065.8 2687.9M2023.2 2687.9L2065.8 2645.4" fill="none" stroke="#000" stroke-width="4"/><path d="M2044.5 2645.9L2044.5 2687.4" fill="none" stroke="#000" stroke-width="4.7" stroke-linecap="round"/>
<path d="M581.8 1747C589.9 1748.2 614.1 1751.9 630.5 1754.3C646.9 1756.7 663.8 1760.9 680 1761.5C696.2 1762.1 711.4 1759.7 727.5 1757.9C743.6 1756.1 760.3 1753.1 776.5 1750.6C792.7 1748 808.6 1742.6 824.8 1742.6C841 1742.6 857.5 1749.3 873.8 1750.6C890 1751.9 906.1 1751.9 922.3 1750.6C938.5 1749.3 954.6 1743.9 970.8 1742.6C987 1741.3 1003.3 1741.7 1019.5 1742.6C1035.7 1743.5 1052 1748.8 1068.2 1748C1084.4 1747.2 1100.3 1740.2 1116.5 1738C1132.7 1735.8 1149.2 1736.8 1165.5 1735C1181.8 1733.2 1197.8 1728.6 1214 1727C1230.2 1725.4 1246.3 1724.9 1262.5 1725.2C1278.7 1725.5 1294.4 1728 1311.3 1728.9C1328.2 1729.8 1347 1729.8 1363.8 1730.7C1380.6 1731.6 1396 1733.6 1412.2 1734.3C1428.4 1735 1444.7 1732.9 1461 1735C1477.3 1737.1 1493.5 1742.3 1509.8 1747C1526 1751.7 1542.3 1757.7 1558.5 1763.3C1574.7 1768.9 1590.8 1773.7 1607 1780.4C1623.2 1787.1 1639.5 1794.2 1655.8 1803.4C1672.1 1812.6 1688.7 1824.5 1705 1835.7C1721.3 1846.9 1737.4 1854.3 1753.5 1870.7C1769.6 1887.1 1785.7 1887.7 1801.8 1934.2C1817.9 1980.7 1834.2 2099.2 1850.3 2149.5C1866.4 2199.8 1882.4 2207.3 1898.4 2236.3C1914.5 2265.3 1930.5 2291.5 1946.6 2323.4C1962.7 2355.3 1978.7 2383.1 1995 2427.5C2011.3 2471.9 2028.2 2557.6 2044.5 2589.9C2060.8 2622.2 2076.7 2611 2092.7 2621.4C2108.7 2631.8 2132.6 2647.1 2140.6 2652.2" fill="none" stroke="#000" stroke-width="4.2" stroke-linejoin="round" stroke-linecap="round"/>
<rect x="571.4" y="1736.7" width="20.7" height="20.7" fill="#000" stroke="#000" stroke-width="4.5" stroke-linejoin="round" stroke-linecap="round"/>
<rect x="620.1" y="1744" width="20.7" height="20.7" fill="#000" stroke="#000" stroke-width="4.5" stroke-linejoin="round" stroke-linecap="round"/>
<rect x="669.6" y="1751.2" width="20.7" height="20.7" fill="#000" stroke="#000" stroke-width="4.5" stroke-linejoin="round" stroke-linecap="round"/>
<rect x="717.1" y="1747.6" width="20.7" height="20.7" fill="#000" stroke="#000" stroke-width="4.5" stroke-linejoin="round" stroke-linecap="round"/>
<rect x="766.1" y="1740.2" width="20.7" height="20.7" fill="#000" stroke="#000" stroke-width="4.5" stroke-linejoin="round" stroke-linecap="round"/>
<rect x="814.4" y="1732.2" width="20.7" height="20.7" fill="#000" stroke="#000" stroke-width="4.5" stroke-linejoin="round" stroke-linecap="round"/>
<rect x="863.4" y="1740.2" width="20.7" height="20.7" fill="#000" stroke="#000" stroke-width="4.5" stroke-linejoin="round" stroke-linecap="round"/>
<rect x="911.9" y="1740.2" width="20.7" height="20.7" fill="#000" stroke="#000" stroke-width="4.5" stroke-linejoin="round" stroke-linecap="round"/>
<rect x="960.4" y="1732.2" width="20.7" height="20.7" fill="#000" stroke="#000" stroke-width="4.5" stroke-linejoin="round" stroke-linecap="round"/>
<rect x="1009.1" y="1732.2" width="20.7" height="20.7" fill="#000" stroke="#000" stroke-width="4.5" stroke-linejoin="round" stroke-linecap="round"/>
<rect x="1057.9" y="1737.7" width="20.7" height="20.7" fill="#000" stroke="#000" stroke-width="4.5" stroke-linejoin="round" stroke-linecap="round"/>
<rect x="1106.2" y="1727.7" width="20.7" height="20.7" fill="#000" stroke="#000" stroke-width="4.5" stroke-linejoin="round" stroke-linecap="round"/>
<rect x="1155.2" y="1724.7" width="20.7" height="20.7" fill="#000" stroke="#000" stroke-width="4.5" stroke-linejoin="round" stroke-linecap="round"/>
<rect x="1203.7" y="1716.7" width="20.7" height="20.7" fill="#000" stroke="#000" stroke-width="4.5" stroke-linejoin="round" stroke-linecap="round"/>
<rect x="1252.2" y="1714.9" width="20.7" height="20.7" fill="#000" stroke="#000" stroke-width="4.5" stroke-linejoin="round" stroke-linecap="round"/>
<rect x="1301" y="1718.6" width="20.7" height="20.7" fill="#000" stroke="#000" stroke-width="4.5" stroke-linejoin="round" stroke-linecap="round"/>
<rect x="1353.5" y="1720.4" width="20.7" height="20.7" fill="#000" stroke="#000" stroke-width="4.5" stroke-linejoin="round" stroke-linecap="round"/>
<rect x="1401.9" y="1724" width="20.7" height="20.7" fill="#000" stroke="#000" stroke-width="4.5" stroke-linejoin="round" stroke-linecap="round"/>
<rect x="1450.7" y="1724.7" width="20.7" height="20.7" fill="#000" stroke="#000" stroke-width="4.5" stroke-linejoin="round" stroke-linecap="round"/>
<rect x="1499.5" y="1736.7" width="20.7" height="20.7" fill="#000" stroke="#000" stroke-width="4.5" stroke-linejoin="round" stroke-linecap="round"/>
<rect x="1548.2" y="1753" width="20.7" height="20.7" fill="#000" stroke="#000" stroke-width="4.5" stroke-linejoin="round" stroke-linecap="round"/>
<rect x="1596.7" y="1770.1" width="20.7" height="20.7" fill="#000" stroke="#000" stroke-width="4.5" stroke-linejoin="round" stroke-linecap="round"/>
<rect x="1645.5" y="1793.1" width="20.7" height="20.7" fill="#000" stroke="#000" stroke-width="4.5" stroke-linejoin="round" stroke-linecap="round"/>
<rect x="1694.7" y="1825.4" width="20.7" height="20.7" fill="#000" stroke="#000" stroke-width="4.5" stroke-linejoin="round" stroke-linecap="round"/>
<rect x="1743.2" y="1860.4" width="20.7" height="20.7" fill="#000" stroke="#000" stroke-width="4.5" stroke-linejoin="round" stroke-linecap="round"/>
<rect x="1791.5" y="1923.9" width="20.7" height="20.7" fill="#000" stroke="#000" stroke-width="4.5" stroke-linejoin="round" stroke-linecap="round"/>
<rect x="1840" y="2139.2" width="20.7" height="20.7" fill="#000" stroke="#000" stroke-width="4.5" stroke-linejoin="round" stroke-linecap="round"/>
<rect x="1888.1" y="2226" width="20.7" height="20.7" fill="#000" stroke="#000" stroke-width="4.5" stroke-linejoin="round" stroke-linecap="round"/>
<rect x="1936.2" y="2313.1" width="20.7" height="20.7" fill="#000" stroke="#000" stroke-width="4.5" stroke-linejoin="round" stroke-linecap="round"/>
<rect x="1984.7" y="2417.2" width="20.7" height="20.7" fill="#000" stroke="#000" stroke-width="4.5" stroke-linejoin="round" stroke-linecap="round"/>
<rect x="2034.2" y="2579.6" width="20.7" height="20.7" fill="#000" stroke="#000" stroke-width="4.5" stroke-linejoin="round" stroke-linecap="round"/>
<rect x="2082.3" y="2611.1" width="20.7" height="20.7" fill="#000" stroke="#000" stroke-width="4.5" stroke-linejoin="round" stroke-linecap="round"/>
<rect x="2130.2" y="2641.8" width="20.7" height="20.7" fill="#000" stroke="#000" stroke-width="4.5" stroke-linejoin="round" stroke-linecap="round"/>
<path d="M581.8 1781.5C589.9 1781.2 614.1 1780.5 630.5 1779.6C646.9 1778.7 663.8 1777.5 680 1776C696.2 1774.5 711.4 1771.8 727.5 1770.6C743.6 1769.4 760.3 1769.4 776.5 1768.8C792.7 1768.2 808.6 1767 824.8 1767C841 1767 857.5 1769.1 873.8 1768.8C890 1768.5 906.1 1766 922.3 1765C938.5 1764 954.6 1763.6 970.8 1763C987 1762.4 1003.3 1762 1019.5 1761.5C1035.7 1761 1052 1760.6 1068.2 1759.7C1084.4 1758.8 1100.3 1758.1 1116.5 1756C1132.7 1753.9 1149.2 1749.1 1165.5 1747C1181.8 1744.9 1197.8 1745.2 1214 1743.4C1230.2 1741.6 1246.3 1736.9 1262.5 1736C1278.7 1735.1 1294.4 1736.5 1311.3 1738C1328.2 1739.5 1347 1744 1363.8 1745.2C1380.6 1746.4 1396 1744.6 1412.2 1745.2C1428.4 1745.8 1444.7 1745.5 1461 1748.8C1477.3 1752.1 1493.5 1757.8 1509.8 1765.1C1526 1772.4 1542.3 1779.8 1558.5 1792.5C1574.7 1805.2 1590.8 1821.7 1607 1841.1C1623.2 1860.5 1639.5 1885.7 1655.8 1908.8C1672.1 1931.9 1688.7 1951 1705 1979.5C1721.3 2008 1737.4 2025.6 1753.5 2080C1769.6 2134.4 1785.7 2237.3 1801.8 2306C1817.9 2374.7 1834.2 2446.7 1850.3 2492.3C1866.4 2537.9 1882.4 2557.6 1898.4 2579.7C1914.5 2601.8 1930.5 2613.5 1946.6 2625C1962.7 2636.5 1978.7 2643.2 1995 2648.6C2011.3 2654 2028.2 2656 2044.5 2657.7C2060.8 2659.4 2084.7 2658.6 2092.7 2658.8" fill="none" stroke="#000" stroke-width="4.2" stroke-linejoin="round" stroke-linecap="round"/>
<path d="M560.5 1760.2L603 1802.8M560.5 1802.8L603 1760.2" fill="none" stroke="#000" stroke-width="4"/>
<path d="M609.2 1758.3L651.8 1800.8M609.2 1800.8L651.8 1758.3" fill="none" stroke="#000" stroke-width="4"/>
<path d="M658.8 1754.8L701.2 1797.2M658.8 1797.2L701.2 1754.8" fill="none" stroke="#000" stroke-width="4"/>
<path d="M706.2 1749.3L748.8 1791.8M706.2 1791.8L748.8 1749.3" fill="none" stroke="#000" stroke-width="4"/>
<path d="M755.2 1747.5L797.8 1790M755.2 1790L797.8 1747.5" fill="none" stroke="#000" stroke-width="4"/>
<path d="M803.5 1745.8L846 1788.2M803.5 1788.2L846 1745.8" fill="none" stroke="#000" stroke-width="4"/>
<path d="M852.5 1747.5L895 1790M852.5 1790L895 1747.5" fill="none" stroke="#000" stroke-width="4"/>
<path d="M901 1743.8L943.5 1786.2M901 1786.2L943.5 1743.8" fill="none" stroke="#000" stroke-width="4"/>
<path d="M949.5 1741.8L992 1784.2M949.5 1784.2L992 1741.8" fill="none" stroke="#000" stroke-width="4"/>
<path d="M998.2 1740.2L1040.8 1782.8M998.2 1782.8L1040.8 1740.2" fill="none" stroke="#000" stroke-width="4"/>
<path d="M1047 1738.5L1089.5 1781M1047 1781L1089.5 1738.5" fill="none" stroke="#000" stroke-width="4"/>
<path d="M1095.2 1734.8L1137.8 1777.2M1095.2 1777.2L1137.8 1734.8" fill="none" stroke="#000" stroke-width="4"/>
<path d="M1144.2 1725.8L1186.8 1768.2M1144.2 1768.2L1186.8 1725.8" fill="none" stroke="#000" stroke-width="4"/>
<path d="M1192.8 1722.2L1235.2 1764.7M1192.8 1764.7L1235.2 1722.2" fill="none" stroke="#000" stroke-width="4"/>
<path d="M1241.2 1714.8L1283.8 1757.2M1241.2 1757.2L1283.8 1714.8" fill="none" stroke="#000" stroke-width="4"/>
<path d="M1290 1716.8L1332.5 1759.2M1290 1759.2L1332.5 1716.8" fill="none" stroke="#000" stroke-width="4"/>
<path d="M1342.5 1724L1385 1766.5M1342.5 1766.5L1385 1724" fill="none" stroke="#000" stroke-width="4"/>
<path d="M1391 1724L1433.5 1766.5M1391 1766.5L1433.5 1724" fill="none" stroke="#000" stroke-width="4"/>
<path d="M1439.8 1727.5L1482.2 1770M1439.8 1770L1482.2 1727.5" fill="none" stroke="#000" stroke-width="4"/>
<path d="M1488.5 1743.8L1531 1786.3M1488.5 1786.3L1531 1743.8" fill="none" stroke="#000" stroke-width="4"/>
<path d="M1537.2 1771.2L1579.8 1813.8M1537.2 1813.8L1579.8 1771.2" fill="none" stroke="#000" stroke-width="4"/>
<path d="M1585.8 1819.8L1628.2 1862.3M1585.8 1862.3L1628.2 1819.8" fill="none" stroke="#000" stroke-width="4"/>
<path d="M1634.5 1887.5L1677 1930M1634.5 1930L1677 1887.5" fill="none" stroke="#000" stroke-width="4"/>
<path d="M1683.8 1958.2L1726.2 2000.8M1683.8 2000.8L1726.2 1958.2" fill="none" stroke="#000" stroke-width="4"/>
<path d="M1732.2 2058.8L1774.8 2101.2M1732.2 2101.2L1774.8 2058.8" fill="none" stroke="#000" stroke-width="4"/>
<path d="M1780.5 2284.8L1823 2327.2M1780.5 2327.2L1823 2284.8" fill="none" stroke="#000" stroke-width="4"/>
<path d="M1829 2471.1L1871.5 2513.6M1829 2513.6L1871.5 2471.1" fill="none" stroke="#000" stroke-width="4"/>
<path d="M1877.2 2558.4L1919.7 2600.9M1877.2 2600.9L1919.7 2558.4" fill="none" stroke="#000" stroke-width="4"/>
<path d="M1925.3 2603.8L1967.8 2646.2M1925.3 2646.2L1967.8 2603.8" fill="none" stroke="#000" stroke-width="4"/>
<path d="M1973.8 2627.3L2016.2 2669.8M1973.8 2669.8L2016.2 2627.3" fill="none" stroke="#000" stroke-width="4"/>
<path d="M2023.2 2636.4L2065.8 2678.9M2023.2 2678.9L2065.8 2636.4" fill="none" stroke="#000" stroke-width="4"/>
<path d="M2071.4 2637.6L2113.9 2680.1M2071.4 2680.1L2113.9 2637.6" fill="none" stroke="#000" stroke-width="4"/>
<path d="M824.8 1707.1C833 1706.5 857.5 1703.5 873.8 1703.5C890 1703.5 906.1 1706.5 922.3 1707.1C938.5 1707.7 954.6 1706.4 970.8 1707.1C987 1707.8 1003.3 1711.5 1019.5 1711.5C1035.7 1711.5 1052 1707.8 1068.2 1707.1C1084.4 1706.4 1100.3 1707.7 1116.5 1707.1C1132.7 1706.5 1149.2 1704.9 1165.5 1703.5C1181.8 1702.1 1197.8 1700.7 1214 1698.8C1230.2 1696.9 1246.3 1693.2 1262.5 1691.9C1278.7 1690.6 1294.4 1691.6 1311.3 1690.8C1328.2 1690 1347 1687.8 1363.8 1687.2C1380.6 1686.6 1396 1685.9 1412.2 1687.2C1428.4 1688.5 1444.7 1693.2 1461 1695.1C1477.3 1697 1493.5 1697.4 1509.8 1698.8C1526 1700.2 1542.3 1701.5 1558.5 1703.5C1574.7 1705.5 1590.8 1706.2 1607 1710.7C1623.2 1715.2 1639.5 1724.1 1655.8 1730.7C1672.1 1737.3 1688.7 1741.8 1705 1750.6C1721.3 1759.4 1737.4 1771.6 1753.5 1783.6C1769.6 1795.6 1785.7 1803 1801.8 1822.8C1817.9 1842.6 1834.2 1840.3 1850.3 1902.6C1866.4 1964.9 1882.4 2098.4 1898.4 2196.4C1914.5 2294.4 1930.5 2427.6 1946.6 2490.4C1962.7 2553.2 1978.7 2552 1995 2573.2C2011.3 2594.4 2028.2 2606.8 2044.5 2617.8C2060.8 2628.9 2076.7 2634.4 2092.7 2639.5C2108.7 2644.6 2132.6 2647.1 2140.6 2648.6" fill="none" stroke="#000" stroke-width="4.2" stroke-linejoin="round" stroke-linecap="round"/>
<circle cx="824.8" cy="1707.1" r="12.4" fill="#000"/>
<circle cx="873.8" cy="1703.5" r="12.4" fill="#000"/>
<circle cx="922.3" cy="1707.1" r="12.4" fill="#000"/>
<circle cx="970.8" cy="1707.1" r="12.4" fill="#000"/>
<circle cx="1019.5" cy="1711.5" r="12.4" fill="#000"/>
<circle cx="1068.2" cy="1707.1" r="12.4" fill="#000"/>
<circle cx="1116.5" cy="1707.1" r="12.4" fill="#000"/>
<circle cx="1165.5" cy="1703.5" r="12.4" fill="#000"/>
<circle cx="1214" cy="1698.8" r="12.4" fill="#000"/>
<circle cx="1262.5" cy="1691.9" r="12.4" fill="#000"/>
<circle cx="1311.3" cy="1690.8" r="12.4" fill="#000"/>
<circle cx="1363.8" cy="1687.2" r="12.4" fill="#000"/>
<circle cx="1412.2" cy="1687.2" r="12.4" fill="#000"/>
<circle cx="1461" cy="1695.1" r="12.4" fill="#000"/>
<circle cx="1509.8" cy="1698.8" r="12.4" fill="#000"/>
<circle cx="1558.5" cy="1703.5" r="12.4" fill="#000"/>
<circle cx="1607" cy="1710.7" r="12.4" fill="#000"/>
<circle cx="1655.8" cy="1730.7" r="12.4" fill="#000"/>
<circle cx="1705" cy="1750.6" r="12.4" fill="#000"/>
<circle cx="1753.5" cy="1783.6" r="12.4" fill="#000"/>
<circle cx="1801.8" cy="1822.8" r="12.4" fill="#000"/>
<circle cx="1850.3" cy="1902.6" r="12.4" fill="#000"/>
<circle cx="1898.4" cy="2196.4" r="12.4" fill="#000"/>
<circle cx="1946.6" cy="2490.4" r="12.4" fill="#000"/>
<circle cx="1995" cy="2573.2" r="12.4" fill="#000"/>
<circle cx="2044.5" cy="2617.8" r="12.4" fill="#000"/>
<circle cx="2092.7" cy="2639.5" r="12.4" fill="#000"/>
<circle cx="2140.6" cy="2648.6" r="12.4" fill="#000"/>
<text x="60.2" y="2909.3" font-size="63" font-weight="bold">0.001</text>
<text x="123.2" y="2543.3" font-size="63" font-weight="bold">0.1</text>
<text x="139.2" y="2172.6" font-size="63" font-weight="bold" letter-spacing="4.00">10</text>
<text x="74.8" y="1807.7" font-size="63" font-weight="bold" letter-spacing="1.80">1000</text>
<text x="197.4" y="2997" font-size="63" font-weight="bold">0.01</text>
<text x="699.8" y="2997" font-size="63" font-weight="bold">0.1</text>
<text x="1206.4" y="2997" font-size="63" font-weight="bold">1</text>
<text x="1674.1" y="2997" font-size="63" font-weight="bold" letter-spacing="4.00">10</text>
<text x="2144.2" y="2997" font-size="63" font-weight="bold" letter-spacing="2.75">100</text>
<text x="280" y="1687" font-size="108" font-weight="bold" text-anchor="start">η</text>
<text x="378.9" y="1688.7" font-size="62" letter-spacing="1.12">(Pa s)</text>
<text x="2036" y="2805.3" font-size="96" font-weight="bold" text-anchor="start">τ</text>
<text x="2105.3" y="2804.2" font-size="62" letter-spacing="1.53">(Pa)</text>
<text x="2124.5" y="1669.6" font-size="96" font-weight="bold" text-anchor="start">B)</text>
<rect x="647" y="1848" width="512" height="562" fill="#fff"/>
<path d="M647 1848h2v562h-2zM647 1848h512v1h-512zM1157 1848h2v562h-2zM647 2409h512v1h-512z" fill="#000" shape-rendering="crispEdges"/>
<path d="M675 1883.9L787 1883.9" stroke="#000" stroke-width="4.2" stroke-linecap="butt"/>
<path d="M729.1 1872.1L740.9 1895.7L717.3 1895.7Z" fill="none" stroke="#000" stroke-width="4.2" stroke-linejoin="round" stroke-linecap="round"/>
<text x="800.3" y="1894.9" font-size="44" text-anchor="start" textLength="226.5" lengthAdjust="spacing">0.5% 10min</text>
<path d="M675 1952.4L787 1952.4" stroke="#000" stroke-width="4.2" stroke-linecap="butt"/>
<path d="M729.1 1940.6L740.9 1964.2L717.3 1964.2Z" fill="#000" stroke="#000" stroke-width="4.2" stroke-linejoin="round" stroke-linecap="round"/>
<text x="800.3" y="1963.4" font-size="44" text-anchor="start" textLength="343.5" lengthAdjust="spacing">0.5% 10min borax</text>
<path d="M675 2022.9L787 2022.9" stroke="#000" stroke-width="4.2" stroke-linecap="butt"/>
<path d="M729.1 2011.2L740.8 2022.9L729.1 2034.6L717.5 2022.9Z" fill="none" stroke="#000" stroke-width="4.2" stroke-linejoin="round" stroke-linecap="round"/>
<text x="800.3" y="2033.9" font-size="44" text-anchor="start" textLength="226.5" lengthAdjust="spacing">0.5% 90min</text>
<path d="M675 2091.7L787 2091.7" stroke="#000" stroke-width="4.2" stroke-linecap="butt"/>
<path d="M729.1 2080L740.8 2091.7L729.1 2103.3L717.5 2091.7Z" fill="#000" stroke="#000" stroke-width="4.2" stroke-linejoin="round" stroke-linecap="round"/>
<text x="800.3" y="2102.7" font-size="44" text-anchor="start" textLength="343.5" lengthAdjust="spacing">0.5% 90min borax</text>
<path d="M675 2162.3L787 2162.3" stroke="#000" stroke-width="4.2" stroke-linecap="butt"/>
<path d="M716.1 2149.3L742.1 2175.3M716.1 2175.3L742.1 2149.3" fill="none" stroke="#000" stroke-width="3.8"/><path d="M729.1 2149.8L729.1 2174.8" fill="none" stroke="#000" stroke-width="4.5" stroke-linecap="round"/>
<text x="800.3" y="2173.3" font-size="44" text-anchor="start" textLength="144.7" lengthAdjust="spacing">dialysed</text>
<path d="M675 2229.1L787 2229.1" stroke="#000" stroke-width="4.2" stroke-linecap="butt"/>
<rect x="718.3" y="2218.3" width="21.6" height="21.6" fill="#000" stroke="#000" stroke-width="4.2" stroke-linejoin="round" stroke-linecap="round"/>
<text x="800.3" y="2240.1" font-size="44" text-anchor="start" textLength="259.4" lengthAdjust="spacing">dialysed borax</text>
<path d="M675 2297.3L787 2297.3" stroke="#000" stroke-width="4.2" stroke-linecap="butt"/>
<path d="M716.1 2284.3L742.1 2310.3M716.1 2310.3L742.1 2284.3" fill="none" stroke="#000" stroke-width="3.8"/>
<text x="800.3" y="2308.3" font-size="44" text-anchor="start" textLength="125.7" lengthAdjust="spacing">centrif</text>
<path d="M675 2367.8L787 2367.8" stroke="#000" stroke-width="4.2" stroke-linecap="butt"/>
<circle cx="729.1" cy="2367.8" r="12.2" fill="#000"/>
<text x="800.3" y="2378.8" font-size="44" text-anchor="start" textLength="239.4" lengthAdjust="spacing">centrif borax</text>
</svg>
</body></html>
